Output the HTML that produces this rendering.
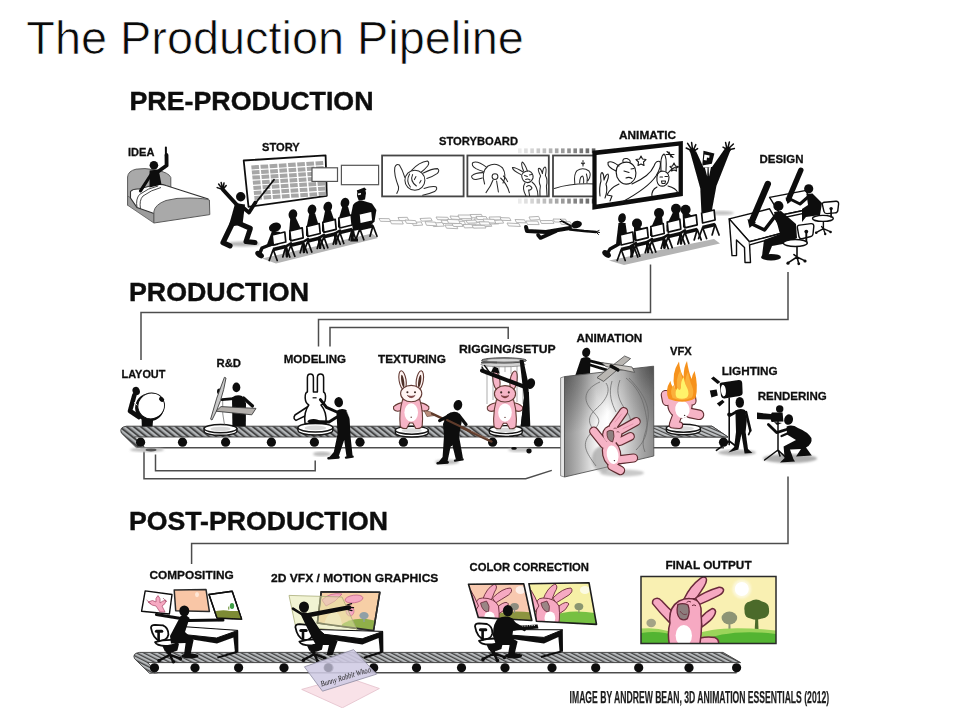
<!DOCTYPE html>
<html><head><meta charset="utf-8"><title>The Production Pipeline</title>
<style>
html,body{margin:0;padding:0;background:#fff;}
svg{display:block;font-family:"Liberation Sans",sans-serif;}
</style></head><body>
<svg width="966" height="708" viewBox="0 0 966 708">
<rect width="966" height="708" fill="#fff"/>
<defs>
<linearGradient id="panelg" x1="0" y1="0" x2="1" y2="0">
<stop offset="0" stop-color="#8a8a8a"/><stop offset="0.16" stop-color="#b4b4b4"/><stop offset="0.36" stop-color="#f4f4f4"/><stop offset="0.48" stop-color="#ffffff"/><stop offset="0.66" stop-color="#dcdcdc"/><stop offset="0.86" stop-color="#a8a8a8"/><stop offset="1" stop-color="#8c8c8c"/></linearGradient>
<radialGradient id="pdl" gradientUnits="userSpaceOnUse" cx="562" cy="372" r="62"><stop offset="0" stop-color="#222" stop-opacity="0.5"/><stop offset="1" stop-color="#222" stop-opacity="0"/></radialGradient>
<radialGradient id="pdr" gradientUnits="userSpaceOnUse" cx="658" cy="362" r="70"><stop offset="0" stop-color="#1a1a1a" stop-opacity="0.62"/><stop offset="0.5" stop-color="#222" stop-opacity="0.25"/><stop offset="1" stop-color="#222" stop-opacity="0"/></radialGradient>
<linearGradient id="filmg" x1="0" y1="0" x2="1" y2="0">
<stop offset="0" stop-color="#ffffff"/><stop offset="0.5" stop-color="#b0b0b0"/><stop offset="1" stop-color="#6a6a6a"/></linearGradient>
<filter id="blur1"><feGaussianBlur stdDeviation="1.2"/></filter>
<filter id="imgblur" filterUnits="userSpaceOnUse" x="0" y="70" width="966" height="638"><feGaussianBlur stdDeviation="0.42"/></filter>
<filter id="soft"><feGaussianBlur stdDeviation="0.35"/></filter>
</defs>
<text x="26.3" y="53.7" font-size="47" font-weight="normal" fill="#0a0a0a" textLength="497.5" lengthAdjust="spacingAndGlyphs" stroke="#fff" stroke-width="0.7">The Production Pipeline</text>
<g filter="url(#imgblur)">
<text x="129.5" y="110" font-size="26.6" font-weight="bold" fill="#111" textLength="244" lengthAdjust="spacingAndGlyphs" stroke="#111" stroke-width="0.45">PRE-PRODUCTION</text>
<text x="129" y="301" font-size="26.6" font-weight="bold" fill="#111" textLength="180" lengthAdjust="spacingAndGlyphs" stroke="#111" stroke-width="0.45">PRODUCTION</text>
<text x="129" y="529.6" font-size="26.6" font-weight="bold" fill="#111" textLength="259" lengthAdjust="spacingAndGlyphs" stroke="#111" stroke-width="0.45">POST-PRODUCTION</text>
<text x="128" y="155.7" font-size="11.4" font-weight="bold" fill="#111" textLength="26.4" lengthAdjust="spacingAndGlyphs" stroke="#111" stroke-width="0.3">IDEA</text>
<text x="262" y="150.8" font-size="11.4" font-weight="bold" fill="#111" textLength="37.7" lengthAdjust="spacingAndGlyphs" stroke="#111" stroke-width="0.3">STORY</text>
<text x="439" y="144.5" font-size="11.4" font-weight="bold" fill="#111" textLength="79" lengthAdjust="spacingAndGlyphs" stroke="#111" stroke-width="0.3">STORYBOARD</text>
<text x="619" y="138.5" font-size="11.4" font-weight="bold" fill="#111" textLength="57" lengthAdjust="spacingAndGlyphs" stroke="#111" stroke-width="0.3">ANIMATIC</text>
<text x="759.5" y="162.8" font-size="11.4" font-weight="bold" fill="#111" textLength="44" lengthAdjust="spacingAndGlyphs" stroke="#111" stroke-width="0.3">DESIGN</text>
<text x="121.6" y="378" font-size="11.4" font-weight="bold" fill="#111" textLength="43.8" lengthAdjust="spacingAndGlyphs" stroke="#111" stroke-width="0.3">LAYOUT</text>
<text x="216.5" y="366.7" font-size="11.4" font-weight="bold" fill="#111" textLength="24.5" lengthAdjust="spacingAndGlyphs" stroke="#111" stroke-width="0.3">R&amp;D</text>
<text x="283.7" y="363" font-size="11.4" font-weight="bold" fill="#111" textLength="62.3" lengthAdjust="spacingAndGlyphs" stroke="#111" stroke-width="0.3">MODELING</text>
<text x="378" y="363" font-size="11.4" font-weight="bold" fill="#111" textLength="68" lengthAdjust="spacingAndGlyphs" stroke="#111" stroke-width="0.3">TEXTURING</text>
<text x="459" y="352.8" font-size="11.4" font-weight="bold" fill="#111" textLength="96.6" lengthAdjust="spacingAndGlyphs" stroke="#111" stroke-width="0.3">RIGGING/SETUP</text>
<text x="576.4" y="342" font-size="11.4" font-weight="bold" fill="#111" textLength="66" lengthAdjust="spacingAndGlyphs" stroke="#111" stroke-width="0.3">ANIMATION</text>
<text x="670" y="355" font-size="11.4" font-weight="bold" fill="#111" textLength="21.7" lengthAdjust="spacingAndGlyphs" stroke="#111" stroke-width="0.3">VFX</text>
<text x="721.7" y="375" font-size="11.4" font-weight="bold" fill="#111" textLength="56" lengthAdjust="spacingAndGlyphs" stroke="#111" stroke-width="0.3">LIGHTING</text>
<text x="757.7" y="400" font-size="11.4" font-weight="bold" fill="#111" textLength="69" lengthAdjust="spacingAndGlyphs" stroke="#111" stroke-width="0.3">RENDERING</text>
<text x="149.5" y="578.5" font-size="11.4" font-weight="bold" fill="#111" textLength="84.2" lengthAdjust="spacingAndGlyphs" stroke="#111" stroke-width="0.3">COMPOSITING</text>
<text x="271" y="581.5" font-size="11.4" font-weight="bold" fill="#111" textLength="167.4" lengthAdjust="spacingAndGlyphs" stroke="#111" stroke-width="0.3">2D VFX / MOTION GRAPHICS</text>
<text x="469.6" y="571" font-size="11.4" font-weight="bold" fill="#111" textLength="119.4" lengthAdjust="spacingAndGlyphs" stroke="#111" stroke-width="0.3">COLOR CORRECTION</text>
<text x="665.4" y="568.5" font-size="11.4" font-weight="bold" fill="#111" textLength="86.2" lengthAdjust="spacingAndGlyphs" stroke="#111" stroke-width="0.3">FINAL OUTPUT</text>
<text x="569.6" y="702.6" font-size="16.8" font-weight="bold" fill="#1c1c1c" textLength="259.5" lengthAdjust="spacingAndGlyphs" stroke="#1c1c1c" stroke-width="0.25">IMAGE BY ANDREW BEAN, 3D ANIMATION ESSENTIALS (2012)</text>
<path d="M141,360 V312.6 H650.5 V264.6" stroke="#4e4e4e" stroke-width="1.5" fill="none"/>
<path d="M318.5,346.5 V319.5 H788 V272" stroke="#4e4e4e" stroke-width="1.5" fill="none"/>
<path d="M330,346.5 V327.4 H508.2 V339" stroke="#4e4e4e" stroke-width="1.5" fill="none"/>
<path d="M144,451.5 V478.7 H525.7 L551.8,470.4" stroke="#4e4e4e" stroke-width="1.5" fill="none"/>
<path d="M155.5,454.5 V470.8 H315.2 V460.5" stroke="#4e4e4e" stroke-width="1.5" fill="none"/>
<path d="M788,476.6 V543.6 H191.6 V564" stroke="#4e4e4e" stroke-width="1.5" fill="none"/>
<path d="M140.4,447.7 H724" stroke="#4e4e4e" stroke-width="1.5" fill="none"/>
<clipPath id="bc1"><path d="M126.4,426.2 H712 L728,437 H134.4 L144.4,447.2 L136.4,447.7 L121.4,433 Q118.9,427.2 126.4,426.2 Z"/></clipPath>
<path d="M126.4,426.2 H712 L728,437 H134.4 L144.4,447.2 L136.4,447.7 L121.4,433 Q118.9,427.2 126.4,426.2 Z" fill="#a7aaac"/>
<g clip-path="url(#bc1)"><path d="M87.80,426.2 L88.90,426.2 L116.40,448.20 L115.30,448.20 Z M94.80,426.2 L95.90,426.2 L123.40,448.20 L122.30,448.20 Z M101.80,426.2 L102.90,426.2 L130.40,448.20 L129.30,448.20 Z M108.80,426.2 L109.90,426.2 L137.40,448.20 L136.30,448.20 Z M115.80,426.2 L116.90,426.2 L144.40,448.20 L143.30,448.20 Z M122.80,426.2 L123.90,426.2 L151.40,448.20 L150.30,448.20 Z M129.80,426.2 L130.90,426.2 L158.40,448.20 L157.30,448.20 Z M136.80,426.2 L137.90,426.2 L165.40,448.20 L164.30,448.20 Z M143.80,426.2 L144.90,426.2 L172.40,448.20 L171.30,448.20 Z M150.80,426.2 L151.90,426.2 L179.40,448.20 L178.30,448.20 Z M157.80,426.2 L158.90,426.2 L186.40,448.20 L185.30,448.20 Z M164.80,426.2 L165.90,426.2 L193.40,448.20 L192.30,448.20 Z M171.80,426.2 L172.90,426.2 L200.40,448.20 L199.30,448.20 Z M178.80,426.2 L179.90,426.2 L207.40,448.20 L206.30,448.20 Z M185.80,426.2 L186.90,426.2 L214.40,448.20 L213.30,448.20 Z M192.80,426.2 L193.90,426.2 L221.40,448.20 L220.30,448.20 Z M199.80,426.2 L200.90,426.2 L228.40,448.20 L227.30,448.20 Z M206.80,426.2 L207.90,426.2 L235.40,448.20 L234.30,448.20 Z M213.80,426.2 L214.90,426.2 L242.40,448.20 L241.30,448.20 Z M220.80,426.2 L221.90,426.2 L249.40,448.20 L248.30,448.20 Z M227.80,426.2 L228.90,426.2 L256.40,448.20 L255.30,448.20 Z M234.80,426.2 L235.90,426.2 L263.40,448.20 L262.30,448.20 Z M241.80,426.2 L242.90,426.2 L270.40,448.20 L269.30,448.20 Z M248.80,426.2 L249.90,426.2 L277.40,448.20 L276.30,448.20 Z M255.80,426.2 L256.90,426.2 L284.40,448.20 L283.30,448.20 Z M262.80,426.2 L263.90,426.2 L291.40,448.20 L290.30,448.20 Z M269.80,426.2 L270.90,426.2 L298.40,448.20 L297.30,448.20 Z M276.80,426.2 L277.90,426.2 L305.40,448.20 L304.30,448.20 Z M283.80,426.2 L284.90,426.2 L312.40,448.20 L311.30,448.20 Z M290.80,426.2 L291.90,426.2 L319.40,448.20 L318.30,448.20 Z M297.80,426.2 L298.90,426.2 L326.40,448.20 L325.30,448.20 Z M304.80,426.2 L305.90,426.2 L333.40,448.20 L332.30,448.20 Z M311.80,426.2 L312.90,426.2 L340.40,448.20 L339.30,448.20 Z M318.80,426.2 L319.90,426.2 L347.40,448.20 L346.30,448.20 Z M325.80,426.2 L326.90,426.2 L354.40,448.20 L353.30,448.20 Z M332.80,426.2 L333.90,426.2 L361.40,448.20 L360.30,448.20 Z M339.80,426.2 L340.90,426.2 L368.40,448.20 L367.30,448.20 Z M346.80,426.2 L347.90,426.2 L375.40,448.20 L374.30,448.20 Z M353.80,426.2 L354.90,426.2 L382.40,448.20 L381.30,448.20 Z M360.80,426.2 L361.90,426.2 L389.40,448.20 L388.30,448.20 Z M367.80,426.2 L368.90,426.2 L396.40,448.20 L395.30,448.20 Z M374.80,426.2 L375.90,426.2 L403.40,448.20 L402.30,448.20 Z M381.80,426.2 L382.90,426.2 L410.40,448.20 L409.30,448.20 Z M388.80,426.2 L389.90,426.2 L417.40,448.20 L416.30,448.20 Z M395.80,426.2 L396.90,426.2 L424.40,448.20 L423.30,448.20 Z M402.80,426.2 L403.90,426.2 L431.40,448.20 L430.30,448.20 Z M409.80,426.2 L410.90,426.2 L438.40,448.20 L437.30,448.20 Z M416.80,426.2 L417.90,426.2 L445.40,448.20 L444.30,448.20 Z M423.80,426.2 L424.90,426.2 L452.40,448.20 L451.30,448.20 Z M430.80,426.2 L431.90,426.2 L459.40,448.20 L458.30,448.20 Z M437.80,426.2 L438.90,426.2 L466.40,448.20 L465.30,448.20 Z M444.80,426.2 L445.90,426.2 L473.40,448.20 L472.30,448.20 Z M451.80,426.2 L452.90,426.2 L480.40,448.20 L479.30,448.20 Z M458.80,426.2 L459.90,426.2 L487.40,448.20 L486.30,448.20 Z M465.80,426.2 L466.90,426.2 L494.40,448.20 L493.30,448.20 Z M472.80,426.2 L473.90,426.2 L501.40,448.20 L500.30,448.20 Z M479.80,426.2 L480.90,426.2 L508.40,448.20 L507.30,448.20 Z M486.80,426.2 L487.90,426.2 L515.40,448.20 L514.30,448.20 Z M493.80,426.2 L494.90,426.2 L522.40,448.20 L521.30,448.20 Z M500.80,426.2 L501.90,426.2 L529.40,448.20 L528.30,448.20 Z M507.80,426.2 L508.90,426.2 L536.40,448.20 L535.30,448.20 Z M514.80,426.2 L515.90,426.2 L543.40,448.20 L542.30,448.20 Z M521.80,426.2 L522.90,426.2 L550.40,448.20 L549.30,448.20 Z M528.80,426.2 L529.90,426.2 L557.40,448.20 L556.30,448.20 Z M535.80,426.2 L536.90,426.2 L564.40,448.20 L563.30,448.20 Z M542.80,426.2 L543.90,426.2 L571.40,448.20 L570.30,448.20 Z M549.80,426.2 L550.90,426.2 L578.40,448.20 L577.30,448.20 Z M556.80,426.2 L557.90,426.2 L585.40,448.20 L584.30,448.20 Z M563.80,426.2 L564.90,426.2 L592.40,448.20 L591.30,448.20 Z M570.80,426.2 L571.90,426.2 L599.40,448.20 L598.30,448.20 Z M577.80,426.2 L578.90,426.2 L606.40,448.20 L605.30,448.20 Z M584.80,426.2 L585.90,426.2 L613.40,448.20 L612.30,448.20 Z M591.80,426.2 L592.90,426.2 L620.40,448.20 L619.30,448.20 Z M598.80,426.2 L599.90,426.2 L627.40,448.20 L626.30,448.20 Z M605.80,426.2 L606.90,426.2 L634.40,448.20 L633.30,448.20 Z M612.80,426.2 L613.90,426.2 L641.40,448.20 L640.30,448.20 Z M619.80,426.2 L620.90,426.2 L648.40,448.20 L647.30,448.20 Z M626.80,426.2 L627.90,426.2 L655.40,448.20 L654.30,448.20 Z M633.80,426.2 L634.90,426.2 L662.40,448.20 L661.30,448.20 Z M640.80,426.2 L641.90,426.2 L669.40,448.20 L668.30,448.20 Z M647.80,426.2 L648.90,426.2 L676.40,448.20 L675.30,448.20 Z M654.80,426.2 L655.90,426.2 L683.40,448.20 L682.30,448.20 Z M661.80,426.2 L662.90,426.2 L690.40,448.20 L689.30,448.20 Z M668.80,426.2 L669.90,426.2 L697.40,448.20 L696.30,448.20 Z M675.80,426.2 L676.90,426.2 L704.40,448.20 L703.30,448.20 Z M682.80,426.2 L683.90,426.2 L711.40,448.20 L710.30,448.20 Z M689.80,426.2 L690.90,426.2 L718.40,448.20 L717.30,448.20 Z M696.80,426.2 L697.90,426.2 L725.40,448.20 L724.30,448.20 Z M703.80,426.2 L704.90,426.2 L732.40,448.20 L731.30,448.20 Z M710.80,426.2 L711.90,426.2 L739.40,448.20 L738.30,448.20 Z M717.80,426.2 L718.90,426.2 L746.40,448.20 L745.30,448.20 Z M724.80,426.2 L725.90,426.2 L753.40,448.20 L752.30,448.20 Z M731.80,426.2 L732.90,426.2 L760.40,448.20 L759.30,448.20 Z M738.80,426.2 L739.90,426.2 L767.40,448.20 L766.30,448.20 Z" fill="#bec1c3"/><path d="M85.40,426.2 L86.70,426.2 L114.20,448.20 L112.90,448.20 Z M92.40,426.2 L93.70,426.2 L121.20,448.20 L119.90,448.20 Z M99.40,426.2 L100.70,426.2 L128.20,448.20 L126.90,448.20 Z M106.40,426.2 L107.70,426.2 L135.20,448.20 L133.90,448.20 Z M113.40,426.2 L114.70,426.2 L142.20,448.20 L140.90,448.20 Z M120.40,426.2 L121.70,426.2 L149.20,448.20 L147.90,448.20 Z M127.40,426.2 L128.70,426.2 L156.20,448.20 L154.90,448.20 Z M134.40,426.2 L135.70,426.2 L163.20,448.20 L161.90,448.20 Z M141.40,426.2 L142.70,426.2 L170.20,448.20 L168.90,448.20 Z M148.40,426.2 L149.70,426.2 L177.20,448.20 L175.90,448.20 Z M155.40,426.2 L156.70,426.2 L184.20,448.20 L182.90,448.20 Z M162.40,426.2 L163.70,426.2 L191.20,448.20 L189.90,448.20 Z M169.40,426.2 L170.70,426.2 L198.20,448.20 L196.90,448.20 Z M176.40,426.2 L177.70,426.2 L205.20,448.20 L203.90,448.20 Z M183.40,426.2 L184.70,426.2 L212.20,448.20 L210.90,448.20 Z M190.40,426.2 L191.70,426.2 L219.20,448.20 L217.90,448.20 Z M197.40,426.2 L198.70,426.2 L226.20,448.20 L224.90,448.20 Z M204.40,426.2 L205.70,426.2 L233.20,448.20 L231.90,448.20 Z M211.40,426.2 L212.70,426.2 L240.20,448.20 L238.90,448.20 Z M218.40,426.2 L219.70,426.2 L247.20,448.20 L245.90,448.20 Z M225.40,426.2 L226.70,426.2 L254.20,448.20 L252.90,448.20 Z M232.40,426.2 L233.70,426.2 L261.20,448.20 L259.90,448.20 Z M239.40,426.2 L240.70,426.2 L268.20,448.20 L266.90,448.20 Z M246.40,426.2 L247.70,426.2 L275.20,448.20 L273.90,448.20 Z M253.40,426.2 L254.70,426.2 L282.20,448.20 L280.90,448.20 Z M260.40,426.2 L261.70,426.2 L289.20,448.20 L287.90,448.20 Z M267.40,426.2 L268.70,426.2 L296.20,448.20 L294.90,448.20 Z M274.40,426.2 L275.70,426.2 L303.20,448.20 L301.90,448.20 Z M281.40,426.2 L282.70,426.2 L310.20,448.20 L308.90,448.20 Z M288.40,426.2 L289.70,426.2 L317.20,448.20 L315.90,448.20 Z M295.40,426.2 L296.70,426.2 L324.20,448.20 L322.90,448.20 Z M302.40,426.2 L303.70,426.2 L331.20,448.20 L329.90,448.20 Z M309.40,426.2 L310.70,426.2 L338.20,448.20 L336.90,448.20 Z M316.40,426.2 L317.70,426.2 L345.20,448.20 L343.90,448.20 Z M323.40,426.2 L324.70,426.2 L352.20,448.20 L350.90,448.20 Z M330.40,426.2 L331.70,426.2 L359.20,448.20 L357.90,448.20 Z M337.40,426.2 L338.70,426.2 L366.20,448.20 L364.90,448.20 Z M344.40,426.2 L345.70,426.2 L373.20,448.20 L371.90,448.20 Z M351.40,426.2 L352.70,426.2 L380.20,448.20 L378.90,448.20 Z M358.40,426.2 L359.70,426.2 L387.20,448.20 L385.90,448.20 Z M365.40,426.2 L366.70,426.2 L394.20,448.20 L392.90,448.20 Z M372.40,426.2 L373.70,426.2 L401.20,448.20 L399.90,448.20 Z M379.40,426.2 L380.70,426.2 L408.20,448.20 L406.90,448.20 Z M386.40,426.2 L387.70,426.2 L415.20,448.20 L413.90,448.20 Z M393.40,426.2 L394.70,426.2 L422.20,448.20 L420.90,448.20 Z M400.40,426.2 L401.70,426.2 L429.20,448.20 L427.90,448.20 Z M407.40,426.2 L408.70,426.2 L436.20,448.20 L434.90,448.20 Z M414.40,426.2 L415.70,426.2 L443.20,448.20 L441.90,448.20 Z M421.40,426.2 L422.70,426.2 L450.20,448.20 L448.90,448.20 Z M428.40,426.2 L429.70,426.2 L457.20,448.20 L455.90,448.20 Z M435.40,426.2 L436.70,426.2 L464.20,448.20 L462.90,448.20 Z M442.40,426.2 L443.70,426.2 L471.20,448.20 L469.90,448.20 Z M449.40,426.2 L450.70,426.2 L478.20,448.20 L476.90,448.20 Z M456.40,426.2 L457.70,426.2 L485.20,448.20 L483.90,448.20 Z M463.40,426.2 L464.70,426.2 L492.20,448.20 L490.90,448.20 Z M470.40,426.2 L471.70,426.2 L499.20,448.20 L497.90,448.20 Z M477.40,426.2 L478.70,426.2 L506.20,448.20 L504.90,448.20 Z M484.40,426.2 L485.70,426.2 L513.20,448.20 L511.90,448.20 Z M491.40,426.2 L492.70,426.2 L520.20,448.20 L518.90,448.20 Z M498.40,426.2 L499.70,426.2 L527.20,448.20 L525.90,448.20 Z M505.40,426.2 L506.70,426.2 L534.20,448.20 L532.90,448.20 Z M512.40,426.2 L513.70,426.2 L541.20,448.20 L539.90,448.20 Z M519.40,426.2 L520.70,426.2 L548.20,448.20 L546.90,448.20 Z M526.40,426.2 L527.70,426.2 L555.20,448.20 L553.90,448.20 Z M533.40,426.2 L534.70,426.2 L562.20,448.20 L560.90,448.20 Z M540.40,426.2 L541.70,426.2 L569.20,448.20 L567.90,448.20 Z M547.40,426.2 L548.70,426.2 L576.20,448.20 L574.90,448.20 Z M554.40,426.2 L555.70,426.2 L583.20,448.20 L581.90,448.20 Z M561.40,426.2 L562.70,426.2 L590.20,448.20 L588.90,448.20 Z M568.40,426.2 L569.70,426.2 L597.20,448.20 L595.90,448.20 Z M575.40,426.2 L576.70,426.2 L604.20,448.20 L602.90,448.20 Z M582.40,426.2 L583.70,426.2 L611.20,448.20 L609.90,448.20 Z M589.40,426.2 L590.70,426.2 L618.20,448.20 L616.90,448.20 Z M596.40,426.2 L597.70,426.2 L625.20,448.20 L623.90,448.20 Z M603.40,426.2 L604.70,426.2 L632.20,448.20 L630.90,448.20 Z M610.40,426.2 L611.70,426.2 L639.20,448.20 L637.90,448.20 Z M617.40,426.2 L618.70,426.2 L646.20,448.20 L644.90,448.20 Z M624.40,426.2 L625.70,426.2 L653.20,448.20 L651.90,448.20 Z M631.40,426.2 L632.70,426.2 L660.20,448.20 L658.90,448.20 Z M638.40,426.2 L639.70,426.2 L667.20,448.20 L665.90,448.20 Z M645.40,426.2 L646.70,426.2 L674.20,448.20 L672.90,448.20 Z M652.40,426.2 L653.70,426.2 L681.20,448.20 L679.90,448.20 Z M659.40,426.2 L660.70,426.2 L688.20,448.20 L686.90,448.20 Z M666.40,426.2 L667.70,426.2 L695.20,448.20 L693.90,448.20 Z M673.40,426.2 L674.70,426.2 L702.20,448.20 L700.90,448.20 Z M680.40,426.2 L681.70,426.2 L709.20,448.20 L707.90,448.20 Z M687.40,426.2 L688.70,426.2 L716.20,448.20 L714.90,448.20 Z M694.40,426.2 L695.70,426.2 L723.20,448.20 L721.90,448.20 Z M701.40,426.2 L702.70,426.2 L730.20,448.20 L728.90,448.20 Z M708.40,426.2 L709.70,426.2 L737.20,448.20 L735.90,448.20 Z M715.40,426.2 L716.70,426.2 L744.20,448.20 L742.90,448.20 Z M722.40,426.2 L723.70,426.2 L751.20,448.20 L749.90,448.20 Z M729.40,426.2 L730.70,426.2 L758.20,448.20 L756.90,448.20 Z M736.40,426.2 L737.70,426.2 L765.20,448.20 L763.90,448.20 Z" fill="#85878a"/><path d="M82.90,426.2 L85.40,426.2 L112.90,448.20 L110.40,448.20 Z M89.90,426.2 L92.40,426.2 L119.90,448.20 L117.40,448.20 Z M96.90,426.2 L99.40,426.2 L126.90,448.20 L124.40,448.20 Z M103.90,426.2 L106.40,426.2 L133.90,448.20 L131.40,448.20 Z M110.90,426.2 L113.40,426.2 L140.90,448.20 L138.40,448.20 Z M117.90,426.2 L120.40,426.2 L147.90,448.20 L145.40,448.20 Z M124.90,426.2 L127.40,426.2 L154.90,448.20 L152.40,448.20 Z M131.90,426.2 L134.40,426.2 L161.90,448.20 L159.40,448.20 Z M138.90,426.2 L141.40,426.2 L168.90,448.20 L166.40,448.20 Z M145.90,426.2 L148.40,426.2 L175.90,448.20 L173.40,448.20 Z M152.90,426.2 L155.40,426.2 L182.90,448.20 L180.40,448.20 Z M159.90,426.2 L162.40,426.2 L189.90,448.20 L187.40,448.20 Z M166.90,426.2 L169.40,426.2 L196.90,448.20 L194.40,448.20 Z M173.90,426.2 L176.40,426.2 L203.90,448.20 L201.40,448.20 Z M180.90,426.2 L183.40,426.2 L210.90,448.20 L208.40,448.20 Z M187.90,426.2 L190.40,426.2 L217.90,448.20 L215.40,448.20 Z M194.90,426.2 L197.40,426.2 L224.90,448.20 L222.40,448.20 Z M201.90,426.2 L204.40,426.2 L231.90,448.20 L229.40,448.20 Z M208.90,426.2 L211.40,426.2 L238.90,448.20 L236.40,448.20 Z M215.90,426.2 L218.40,426.2 L245.90,448.20 L243.40,448.20 Z M222.90,426.2 L225.40,426.2 L252.90,448.20 L250.40,448.20 Z M229.90,426.2 L232.40,426.2 L259.90,448.20 L257.40,448.20 Z M236.90,426.2 L239.40,426.2 L266.90,448.20 L264.40,448.20 Z M243.90,426.2 L246.40,426.2 L273.90,448.20 L271.40,448.20 Z M250.90,426.2 L253.40,426.2 L280.90,448.20 L278.40,448.20 Z M257.90,426.2 L260.40,426.2 L287.90,448.20 L285.40,448.20 Z M264.90,426.2 L267.40,426.2 L294.90,448.20 L292.40,448.20 Z M271.90,426.2 L274.40,426.2 L301.90,448.20 L299.40,448.20 Z M278.90,426.2 L281.40,426.2 L308.90,448.20 L306.40,448.20 Z M285.90,426.2 L288.40,426.2 L315.90,448.20 L313.40,448.20 Z M292.90,426.2 L295.40,426.2 L322.90,448.20 L320.40,448.20 Z M299.90,426.2 L302.40,426.2 L329.90,448.20 L327.40,448.20 Z M306.90,426.2 L309.40,426.2 L336.90,448.20 L334.40,448.20 Z M313.90,426.2 L316.40,426.2 L343.90,448.20 L341.40,448.20 Z M320.90,426.2 L323.40,426.2 L350.90,448.20 L348.40,448.20 Z M327.90,426.2 L330.40,426.2 L357.90,448.20 L355.40,448.20 Z M334.90,426.2 L337.40,426.2 L364.90,448.20 L362.40,448.20 Z M341.90,426.2 L344.40,426.2 L371.90,448.20 L369.40,448.20 Z M348.90,426.2 L351.40,426.2 L378.90,448.20 L376.40,448.20 Z M355.90,426.2 L358.40,426.2 L385.90,448.20 L383.40,448.20 Z M362.90,426.2 L365.40,426.2 L392.90,448.20 L390.40,448.20 Z M369.90,426.2 L372.40,426.2 L399.90,448.20 L397.40,448.20 Z M376.90,426.2 L379.40,426.2 L406.90,448.20 L404.40,448.20 Z M383.90,426.2 L386.40,426.2 L413.90,448.20 L411.40,448.20 Z M390.90,426.2 L393.40,426.2 L420.90,448.20 L418.40,448.20 Z M397.90,426.2 L400.40,426.2 L427.90,448.20 L425.40,448.20 Z M404.90,426.2 L407.40,426.2 L434.90,448.20 L432.40,448.20 Z M411.90,426.2 L414.40,426.2 L441.90,448.20 L439.40,448.20 Z M418.90,426.2 L421.40,426.2 L448.90,448.20 L446.40,448.20 Z M425.90,426.2 L428.40,426.2 L455.90,448.20 L453.40,448.20 Z M432.90,426.2 L435.40,426.2 L462.90,448.20 L460.40,448.20 Z M439.90,426.2 L442.40,426.2 L469.90,448.20 L467.40,448.20 Z M446.90,426.2 L449.40,426.2 L476.90,448.20 L474.40,448.20 Z M453.90,426.2 L456.40,426.2 L483.90,448.20 L481.40,448.20 Z M460.90,426.2 L463.40,426.2 L490.90,448.20 L488.40,448.20 Z M467.90,426.2 L470.40,426.2 L497.90,448.20 L495.40,448.20 Z M474.90,426.2 L477.40,426.2 L504.90,448.20 L502.40,448.20 Z M481.90,426.2 L484.40,426.2 L511.90,448.20 L509.40,448.20 Z M488.90,426.2 L491.40,426.2 L518.90,448.20 L516.40,448.20 Z M495.90,426.2 L498.40,426.2 L525.90,448.20 L523.40,448.20 Z M502.90,426.2 L505.40,426.2 L532.90,448.20 L530.40,448.20 Z M509.90,426.2 L512.40,426.2 L539.90,448.20 L537.40,448.20 Z M516.90,426.2 L519.40,426.2 L546.90,448.20 L544.40,448.20 Z M523.90,426.2 L526.40,426.2 L553.90,448.20 L551.40,448.20 Z M530.90,426.2 L533.40,426.2 L560.90,448.20 L558.40,448.20 Z M537.90,426.2 L540.40,426.2 L567.90,448.20 L565.40,448.20 Z M544.90,426.2 L547.40,426.2 L574.90,448.20 L572.40,448.20 Z M551.90,426.2 L554.40,426.2 L581.90,448.20 L579.40,448.20 Z M558.90,426.2 L561.40,426.2 L588.90,448.20 L586.40,448.20 Z M565.90,426.2 L568.40,426.2 L595.90,448.20 L593.40,448.20 Z M572.90,426.2 L575.40,426.2 L602.90,448.20 L600.40,448.20 Z M579.90,426.2 L582.40,426.2 L609.90,448.20 L607.40,448.20 Z M586.90,426.2 L589.40,426.2 L616.90,448.20 L614.40,448.20 Z M593.90,426.2 L596.40,426.2 L623.90,448.20 L621.40,448.20 Z M600.90,426.2 L603.40,426.2 L630.90,448.20 L628.40,448.20 Z M607.90,426.2 L610.40,426.2 L637.90,448.20 L635.40,448.20 Z M614.90,426.2 L617.40,426.2 L644.90,448.20 L642.40,448.20 Z M621.90,426.2 L624.40,426.2 L651.90,448.20 L649.40,448.20 Z M628.90,426.2 L631.40,426.2 L658.90,448.20 L656.40,448.20 Z M635.90,426.2 L638.40,426.2 L665.90,448.20 L663.40,448.20 Z M642.90,426.2 L645.40,426.2 L672.90,448.20 L670.40,448.20 Z M649.90,426.2 L652.40,426.2 L679.90,448.20 L677.40,448.20 Z M656.90,426.2 L659.40,426.2 L686.90,448.20 L684.40,448.20 Z M663.90,426.2 L666.40,426.2 L693.90,448.20 L691.40,448.20 Z M670.90,426.2 L673.40,426.2 L700.90,448.20 L698.40,448.20 Z M677.90,426.2 L680.40,426.2 L707.90,448.20 L705.40,448.20 Z M684.90,426.2 L687.40,426.2 L714.90,448.20 L712.40,448.20 Z M691.90,426.2 L694.40,426.2 L721.90,448.20 L719.40,448.20 Z M698.90,426.2 L701.40,426.2 L728.90,448.20 L726.40,448.20 Z M705.90,426.2 L708.40,426.2 L735.90,448.20 L733.40,448.20 Z M712.90,426.2 L715.40,426.2 L742.90,448.20 L740.40,448.20 Z M719.90,426.2 L722.40,426.2 L749.90,448.20 L747.40,448.20 Z M726.90,426.2 L729.40,426.2 L756.90,448.20 L754.40,448.20 Z M733.90,426.2 L736.40,426.2 L763.90,448.20 L761.40,448.20 Z" fill="#414141"/></g>
<path d="M126.4,426.2 H712 L728,437 H134.4 L144.4,447.2 L136.4,447.7 L121.4,433 Q118.9,427.2 126.4,426.2 Z" fill="none" stroke="#3c3c3c" stroke-width="0.9"/>
<circle cx="140.6" cy="442.2" r="4.6" fill="#0a0a0a"/>
<circle cx="182.5" cy="442.2" r="4.6" fill="#0a0a0a"/>
<circle cx="225.6" cy="442.2" r="4.6" fill="#0a0a0a"/>
<circle cx="271.4" cy="442.2" r="4.6" fill="#0a0a0a"/>
<circle cx="314.4" cy="442.2" r="4.6" fill="#0a0a0a"/>
<circle cx="360" cy="442.2" r="4.6" fill="#0a0a0a"/>
<circle cx="403.4" cy="442.2" r="4.6" fill="#0a0a0a"/>
<circle cx="449" cy="442.2" r="4.6" fill="#0a0a0a"/>
<circle cx="492.6" cy="442.2" r="4.6" fill="#0a0a0a"/>
<circle cx="538.5" cy="442.2" r="4.6" fill="#0a0a0a"/>
<circle cx="675.5" cy="442.2" r="4.6" fill="#0a0a0a"/>
<circle cx="723.5" cy="442.2" r="4.6" fill="#0a0a0a"/>
<clipPath id="bcr"><path d="M650,426.2 H712 L728,437 H650 Z"/></clipPath>
<path d="M650,426.2 H712 L728,437 H650 Z" fill="#adb0b2"/>
<g clip-path="url(#bcr)"><path d="M619.76,426.2 L622.16,426.2 L647.00,437 L644.60,437 Z M627.96,426.2 L630.36,426.2 L655.20,437 L652.80,437 Z M636.16,426.2 L638.56,426.2 L663.40,437 L661.00,437 Z M644.36,426.2 L646.76,426.2 L671.60,437 L669.20,437 Z M652.56,426.2 L654.96,426.2 L679.80,437 L677.40,437 Z M660.76,426.2 L663.16,426.2 L688.00,437 L685.60,437 Z M668.96,426.2 L671.36,426.2 L696.20,437 L693.80,437 Z M677.16,426.2 L679.56,426.2 L704.40,437 L702.00,437 Z M685.36,426.2 L687.76,426.2 L712.60,437 L710.20,437 Z M693.56,426.2 L695.96,426.2 L720.80,437 L718.40,437 Z M701.76,426.2 L704.16,426.2 L729.00,437 L726.60,437 Z M709.96,426.2 L712.36,426.2 L737.20,437 L734.80,437 Z M718.16,426.2 L720.56,426.2 L745.40,437 L743.00,437 Z M726.36,426.2 L728.76,426.2 L753.60,437 L751.20,437 Z M734.56,426.2 L736.96,426.2 L761.80,437 L759.40,437 Z M742.76,426.2 L745.16,426.2 L770.00,437 L767.60,437 Z" fill="#c4c7c9"/><path d="M615.16,426.2 L617.76,426.2 L642.60,437 L640.00,437 Z M623.36,426.2 L625.96,426.2 L650.80,437 L648.20,437 Z M631.56,426.2 L634.16,426.2 L659.00,437 L656.40,437 Z M639.76,426.2 L642.36,426.2 L667.20,437 L664.60,437 Z M647.96,426.2 L650.56,426.2 L675.40,437 L672.80,437 Z M656.16,426.2 L658.76,426.2 L683.60,437 L681.00,437 Z M664.36,426.2 L666.96,426.2 L691.80,437 L689.20,437 Z M672.56,426.2 L675.16,426.2 L700.00,437 L697.40,437 Z M680.76,426.2 L683.36,426.2 L708.20,437 L705.60,437 Z M688.96,426.2 L691.56,426.2 L716.40,437 L713.80,437 Z M697.16,426.2 L699.76,426.2 L724.60,437 L722.00,437 Z M705.36,426.2 L707.96,426.2 L732.80,437 L730.20,437 Z M713.56,426.2 L716.16,426.2 L741.00,437 L738.40,437 Z M721.76,426.2 L724.36,426.2 L749.20,437 L746.60,437 Z M729.96,426.2 L732.56,426.2 L757.40,437 L754.80,437 Z M738.16,426.2 L740.76,426.2 L765.60,437 L763.00,437 Z" fill="#484848"/></g>
<path d="M650,426.2 H712 L728,437 H650" fill="none" stroke="#3c3c3c" stroke-width="0.9"/>
<path d="M153.5,672.7 H736.6" stroke="#4e4e4e" stroke-width="1.5" fill="none"/>
<clipPath id="bc2"><path d="M139.5,652.4 H723 L740.6,662.6 H147.5 L157.5,672.8 L149.5,673.3 L134.5,658.6 Q132.0,653.4 139.5,652.4 Z"/></clipPath>
<path d="M139.5,652.4 H723 L740.6,662.6 H147.5 L157.5,672.8 L149.5,673.3 L134.5,658.6 Q132.0,653.4 139.5,652.4 Z" fill="#a7aaac"/>
<g clip-path="url(#bc2)"><path d="M86.37,652.4 L88.27,652.4 L130.00,673.80 L128.10,673.80 Z M93.87,652.4 L95.77,652.4 L137.50,673.80 L135.60,673.80 Z M101.37,652.4 L103.27,652.4 L145.00,673.80 L143.10,673.80 Z M108.87,652.4 L110.77,652.4 L152.50,673.80 L150.60,673.80 Z M116.37,652.4 L118.27,652.4 L160.00,673.80 L158.10,673.80 Z M123.87,652.4 L125.77,652.4 L167.50,673.80 L165.60,673.80 Z M131.37,652.4 L133.27,652.4 L175.00,673.80 L173.10,673.80 Z M138.87,652.4 L140.77,652.4 L182.50,673.80 L180.60,673.80 Z M146.37,652.4 L148.27,652.4 L190.00,673.80 L188.10,673.80 Z M153.87,652.4 L155.77,652.4 L197.50,673.80 L195.60,673.80 Z M161.37,652.4 L163.27,652.4 L205.00,673.80 L203.10,673.80 Z M168.87,652.4 L170.77,652.4 L212.50,673.80 L210.60,673.80 Z M176.37,652.4 L178.27,652.4 L220.00,673.80 L218.10,673.80 Z M183.87,652.4 L185.77,652.4 L227.50,673.80 L225.60,673.80 Z M191.37,652.4 L193.27,652.4 L235.00,673.80 L233.10,673.80 Z M198.87,652.4 L200.77,652.4 L242.50,673.80 L240.60,673.80 Z M206.37,652.4 L208.27,652.4 L250.00,673.80 L248.10,673.80 Z M213.87,652.4 L215.77,652.4 L257.50,673.80 L255.60,673.80 Z M221.37,652.4 L223.27,652.4 L265.00,673.80 L263.10,673.80 Z M228.87,652.4 L230.77,652.4 L272.50,673.80 L270.60,673.80 Z M236.37,652.4 L238.27,652.4 L280.00,673.80 L278.10,673.80 Z M243.87,652.4 L245.77,652.4 L287.50,673.80 L285.60,673.80 Z M251.37,652.4 L253.27,652.4 L295.00,673.80 L293.10,673.80 Z M258.87,652.4 L260.77,652.4 L302.50,673.80 L300.60,673.80 Z M266.37,652.4 L268.27,652.4 L310.00,673.80 L308.10,673.80 Z M273.87,652.4 L275.77,652.4 L317.50,673.80 L315.60,673.80 Z M281.37,652.4 L283.27,652.4 L325.00,673.80 L323.10,673.80 Z M288.87,652.4 L290.77,652.4 L332.50,673.80 L330.60,673.80 Z M296.37,652.4 L298.27,652.4 L340.00,673.80 L338.10,673.80 Z M303.87,652.4 L305.77,652.4 L347.50,673.80 L345.60,673.80 Z M311.37,652.4 L313.27,652.4 L355.00,673.80 L353.10,673.80 Z M318.87,652.4 L320.77,652.4 L362.50,673.80 L360.60,673.80 Z M326.37,652.4 L328.27,652.4 L370.00,673.80 L368.10,673.80 Z M333.87,652.4 L335.77,652.4 L377.50,673.80 L375.60,673.80 Z M341.37,652.4 L343.27,652.4 L385.00,673.80 L383.10,673.80 Z M348.87,652.4 L350.77,652.4 L392.50,673.80 L390.60,673.80 Z M356.37,652.4 L358.27,652.4 L400.00,673.80 L398.10,673.80 Z M363.87,652.4 L365.77,652.4 L407.50,673.80 L405.60,673.80 Z M371.37,652.4 L373.27,652.4 L415.00,673.80 L413.10,673.80 Z M378.87,652.4 L380.77,652.4 L422.50,673.80 L420.60,673.80 Z M386.37,652.4 L388.27,652.4 L430.00,673.80 L428.10,673.80 Z M393.87,652.4 L395.77,652.4 L437.50,673.80 L435.60,673.80 Z M401.37,652.4 L403.27,652.4 L445.00,673.80 L443.10,673.80 Z M408.87,652.4 L410.77,652.4 L452.50,673.80 L450.60,673.80 Z M416.37,652.4 L418.27,652.4 L460.00,673.80 L458.10,673.80 Z M423.87,652.4 L425.77,652.4 L467.50,673.80 L465.60,673.80 Z M431.37,652.4 L433.27,652.4 L475.00,673.80 L473.10,673.80 Z M438.87,652.4 L440.77,652.4 L482.50,673.80 L480.60,673.80 Z M446.37,652.4 L448.27,652.4 L490.00,673.80 L488.10,673.80 Z M453.87,652.4 L455.77,652.4 L497.50,673.80 L495.60,673.80 Z M461.37,652.4 L463.27,652.4 L505.00,673.80 L503.10,673.80 Z M468.87,652.4 L470.77,652.4 L512.50,673.80 L510.60,673.80 Z M476.37,652.4 L478.27,652.4 L520.00,673.80 L518.10,673.80 Z M483.87,652.4 L485.77,652.4 L527.50,673.80 L525.60,673.80 Z M491.37,652.4 L493.27,652.4 L535.00,673.80 L533.10,673.80 Z M498.87,652.4 L500.77,652.4 L542.50,673.80 L540.60,673.80 Z M506.37,652.4 L508.27,652.4 L550.00,673.80 L548.10,673.80 Z M513.87,652.4 L515.77,652.4 L557.50,673.80 L555.60,673.80 Z M521.37,652.4 L523.27,652.4 L565.00,673.80 L563.10,673.80 Z M528.87,652.4 L530.77,652.4 L572.50,673.80 L570.60,673.80 Z M536.37,652.4 L538.27,652.4 L580.00,673.80 L578.10,673.80 Z M543.87,652.4 L545.77,652.4 L587.50,673.80 L585.60,673.80 Z M551.37,652.4 L553.27,652.4 L595.00,673.80 L593.10,673.80 Z M558.87,652.4 L560.77,652.4 L602.50,673.80 L600.60,673.80 Z M566.37,652.4 L568.27,652.4 L610.00,673.80 L608.10,673.80 Z M573.87,652.4 L575.77,652.4 L617.50,673.80 L615.60,673.80 Z M581.37,652.4 L583.27,652.4 L625.00,673.80 L623.10,673.80 Z M588.87,652.4 L590.77,652.4 L632.50,673.80 L630.60,673.80 Z M596.37,652.4 L598.27,652.4 L640.00,673.80 L638.10,673.80 Z M603.87,652.4 L605.77,652.4 L647.50,673.80 L645.60,673.80 Z M611.37,652.4 L613.27,652.4 L655.00,673.80 L653.10,673.80 Z M618.87,652.4 L620.77,652.4 L662.50,673.80 L660.60,673.80 Z M626.37,652.4 L628.27,652.4 L670.00,673.80 L668.10,673.80 Z M633.87,652.4 L635.77,652.4 L677.50,673.80 L675.60,673.80 Z M641.37,652.4 L643.27,652.4 L685.00,673.80 L683.10,673.80 Z M648.87,652.4 L650.77,652.4 L692.50,673.80 L690.60,673.80 Z M656.37,652.4 L658.27,652.4 L700.00,673.80 L698.10,673.80 Z M663.87,652.4 L665.77,652.4 L707.50,673.80 L705.60,673.80 Z M671.37,652.4 L673.27,652.4 L715.00,673.80 L713.10,673.80 Z M678.87,652.4 L680.77,652.4 L722.50,673.80 L720.60,673.80 Z M686.37,652.4 L688.27,652.4 L730.00,673.80 L728.10,673.80 Z M693.87,652.4 L695.77,652.4 L737.50,673.80 L735.60,673.80 Z M701.37,652.4 L703.27,652.4 L745.00,673.80 L743.10,673.80 Z M708.87,652.4 L710.77,652.4 L752.50,673.80 L750.60,673.80 Z M716.37,652.4 L718.27,652.4 L760.00,673.80 L758.10,673.80 Z M723.87,652.4 L725.77,652.4 L767.50,673.80 L765.60,673.80 Z M731.37,652.4 L733.27,652.4 L775.00,673.80 L773.10,673.80 Z M738.87,652.4 L740.77,652.4 L782.50,673.80 L780.60,673.80 Z M746.37,652.4 L748.27,652.4 L790.00,673.80 L788.10,673.80 Z" fill="#bec1c3"/><path d="M83.97,652.4 L85.27,652.4 L127.00,673.80 L125.70,673.80 Z M91.47,652.4 L92.77,652.4 L134.50,673.80 L133.20,673.80 Z M98.97,652.4 L100.27,652.4 L142.00,673.80 L140.70,673.80 Z M106.47,652.4 L107.77,652.4 L149.50,673.80 L148.20,673.80 Z M113.97,652.4 L115.27,652.4 L157.00,673.80 L155.70,673.80 Z M121.47,652.4 L122.77,652.4 L164.50,673.80 L163.20,673.80 Z M128.97,652.4 L130.27,652.4 L172.00,673.80 L170.70,673.80 Z M136.47,652.4 L137.77,652.4 L179.50,673.80 L178.20,673.80 Z M143.97,652.4 L145.27,652.4 L187.00,673.80 L185.70,673.80 Z M151.47,652.4 L152.77,652.4 L194.50,673.80 L193.20,673.80 Z M158.97,652.4 L160.27,652.4 L202.00,673.80 L200.70,673.80 Z M166.47,652.4 L167.77,652.4 L209.50,673.80 L208.20,673.80 Z M173.97,652.4 L175.27,652.4 L217.00,673.80 L215.70,673.80 Z M181.47,652.4 L182.77,652.4 L224.50,673.80 L223.20,673.80 Z M188.97,652.4 L190.27,652.4 L232.00,673.80 L230.70,673.80 Z M196.47,652.4 L197.77,652.4 L239.50,673.80 L238.20,673.80 Z M203.97,652.4 L205.27,652.4 L247.00,673.80 L245.70,673.80 Z M211.47,652.4 L212.77,652.4 L254.50,673.80 L253.20,673.80 Z M218.97,652.4 L220.27,652.4 L262.00,673.80 L260.70,673.80 Z M226.47,652.4 L227.77,652.4 L269.50,673.80 L268.20,673.80 Z M233.97,652.4 L235.27,652.4 L277.00,673.80 L275.70,673.80 Z M241.47,652.4 L242.77,652.4 L284.50,673.80 L283.20,673.80 Z M248.97,652.4 L250.27,652.4 L292.00,673.80 L290.70,673.80 Z M256.47,652.4 L257.77,652.4 L299.50,673.80 L298.20,673.80 Z M263.97,652.4 L265.27,652.4 L307.00,673.80 L305.70,673.80 Z M271.47,652.4 L272.77,652.4 L314.50,673.80 L313.20,673.80 Z M278.97,652.4 L280.27,652.4 L322.00,673.80 L320.70,673.80 Z M286.47,652.4 L287.77,652.4 L329.50,673.80 L328.20,673.80 Z M293.97,652.4 L295.27,652.4 L337.00,673.80 L335.70,673.80 Z M301.47,652.4 L302.77,652.4 L344.50,673.80 L343.20,673.80 Z M308.97,652.4 L310.27,652.4 L352.00,673.80 L350.70,673.80 Z M316.47,652.4 L317.77,652.4 L359.50,673.80 L358.20,673.80 Z M323.97,652.4 L325.27,652.4 L367.00,673.80 L365.70,673.80 Z M331.47,652.4 L332.77,652.4 L374.50,673.80 L373.20,673.80 Z M338.97,652.4 L340.27,652.4 L382.00,673.80 L380.70,673.80 Z M346.47,652.4 L347.77,652.4 L389.50,673.80 L388.20,673.80 Z M353.97,652.4 L355.27,652.4 L397.00,673.80 L395.70,673.80 Z M361.47,652.4 L362.77,652.4 L404.50,673.80 L403.20,673.80 Z M368.97,652.4 L370.27,652.4 L412.00,673.80 L410.70,673.80 Z M376.47,652.4 L377.77,652.4 L419.50,673.80 L418.20,673.80 Z M383.97,652.4 L385.27,652.4 L427.00,673.80 L425.70,673.80 Z M391.47,652.4 L392.77,652.4 L434.50,673.80 L433.20,673.80 Z M398.97,652.4 L400.27,652.4 L442.00,673.80 L440.70,673.80 Z M406.47,652.4 L407.77,652.4 L449.50,673.80 L448.20,673.80 Z M413.97,652.4 L415.27,652.4 L457.00,673.80 L455.70,673.80 Z M421.47,652.4 L422.77,652.4 L464.50,673.80 L463.20,673.80 Z M428.97,652.4 L430.27,652.4 L472.00,673.80 L470.70,673.80 Z M436.47,652.4 L437.77,652.4 L479.50,673.80 L478.20,673.80 Z M443.97,652.4 L445.27,652.4 L487.00,673.80 L485.70,673.80 Z M451.47,652.4 L452.77,652.4 L494.50,673.80 L493.20,673.80 Z M458.97,652.4 L460.27,652.4 L502.00,673.80 L500.70,673.80 Z M466.47,652.4 L467.77,652.4 L509.50,673.80 L508.20,673.80 Z M473.97,652.4 L475.27,652.4 L517.00,673.80 L515.70,673.80 Z M481.47,652.4 L482.77,652.4 L524.50,673.80 L523.20,673.80 Z M488.97,652.4 L490.27,652.4 L532.00,673.80 L530.70,673.80 Z M496.47,652.4 L497.77,652.4 L539.50,673.80 L538.20,673.80 Z M503.97,652.4 L505.27,652.4 L547.00,673.80 L545.70,673.80 Z M511.47,652.4 L512.77,652.4 L554.50,673.80 L553.20,673.80 Z M518.97,652.4 L520.27,652.4 L562.00,673.80 L560.70,673.80 Z M526.47,652.4 L527.77,652.4 L569.50,673.80 L568.20,673.80 Z M533.97,652.4 L535.27,652.4 L577.00,673.80 L575.70,673.80 Z M541.47,652.4 L542.77,652.4 L584.50,673.80 L583.20,673.80 Z M548.97,652.4 L550.27,652.4 L592.00,673.80 L590.70,673.80 Z M556.47,652.4 L557.77,652.4 L599.50,673.80 L598.20,673.80 Z M563.97,652.4 L565.27,652.4 L607.00,673.80 L605.70,673.80 Z M571.47,652.4 L572.77,652.4 L614.50,673.80 L613.20,673.80 Z M578.97,652.4 L580.27,652.4 L622.00,673.80 L620.70,673.80 Z M586.47,652.4 L587.77,652.4 L629.50,673.80 L628.20,673.80 Z M593.97,652.4 L595.27,652.4 L637.00,673.80 L635.70,673.80 Z M601.47,652.4 L602.77,652.4 L644.50,673.80 L643.20,673.80 Z M608.97,652.4 L610.27,652.4 L652.00,673.80 L650.70,673.80 Z M616.47,652.4 L617.77,652.4 L659.50,673.80 L658.20,673.80 Z M623.97,652.4 L625.27,652.4 L667.00,673.80 L665.70,673.80 Z M631.47,652.4 L632.77,652.4 L674.50,673.80 L673.20,673.80 Z M638.97,652.4 L640.27,652.4 L682.00,673.80 L680.70,673.80 Z M646.47,652.4 L647.77,652.4 L689.50,673.80 L688.20,673.80 Z M653.97,652.4 L655.27,652.4 L697.00,673.80 L695.70,673.80 Z M661.47,652.4 L662.77,652.4 L704.50,673.80 L703.20,673.80 Z M668.97,652.4 L670.27,652.4 L712.00,673.80 L710.70,673.80 Z M676.47,652.4 L677.77,652.4 L719.50,673.80 L718.20,673.80 Z M683.97,652.4 L685.27,652.4 L727.00,673.80 L725.70,673.80 Z M691.47,652.4 L692.77,652.4 L734.50,673.80 L733.20,673.80 Z M698.97,652.4 L700.27,652.4 L742.00,673.80 L740.70,673.80 Z M706.47,652.4 L707.77,652.4 L749.50,673.80 L748.20,673.80 Z M713.97,652.4 L715.27,652.4 L757.00,673.80 L755.70,673.80 Z M721.47,652.4 L722.77,652.4 L764.50,673.80 L763.20,673.80 Z M728.97,652.4 L730.27,652.4 L772.00,673.80 L770.70,673.80 Z M736.47,652.4 L737.77,652.4 L779.50,673.80 L778.20,673.80 Z M743.97,652.4 L745.27,652.4 L787.00,673.80 L785.70,673.80 Z" fill="#85878a"/><path d="M81.77,652.4 L83.97,652.4 L125.70,673.80 L123.50,673.80 Z M89.27,652.4 L91.47,652.4 L133.20,673.80 L131.00,673.80 Z M96.77,652.4 L98.97,652.4 L140.70,673.80 L138.50,673.80 Z M104.27,652.4 L106.47,652.4 L148.20,673.80 L146.00,673.80 Z M111.77,652.4 L113.97,652.4 L155.70,673.80 L153.50,673.80 Z M119.27,652.4 L121.47,652.4 L163.20,673.80 L161.00,673.80 Z M126.77,652.4 L128.97,652.4 L170.70,673.80 L168.50,673.80 Z M134.27,652.4 L136.47,652.4 L178.20,673.80 L176.00,673.80 Z M141.77,652.4 L143.97,652.4 L185.70,673.80 L183.50,673.80 Z M149.27,652.4 L151.47,652.4 L193.20,673.80 L191.00,673.80 Z M156.77,652.4 L158.97,652.4 L200.70,673.80 L198.50,673.80 Z M164.27,652.4 L166.47,652.4 L208.20,673.80 L206.00,673.80 Z M171.77,652.4 L173.97,652.4 L215.70,673.80 L213.50,673.80 Z M179.27,652.4 L181.47,652.4 L223.20,673.80 L221.00,673.80 Z M186.77,652.4 L188.97,652.4 L230.70,673.80 L228.50,673.80 Z M194.27,652.4 L196.47,652.4 L238.20,673.80 L236.00,673.80 Z M201.77,652.4 L203.97,652.4 L245.70,673.80 L243.50,673.80 Z M209.27,652.4 L211.47,652.4 L253.20,673.80 L251.00,673.80 Z M216.77,652.4 L218.97,652.4 L260.70,673.80 L258.50,673.80 Z M224.27,652.4 L226.47,652.4 L268.20,673.80 L266.00,673.80 Z M231.77,652.4 L233.97,652.4 L275.70,673.80 L273.50,673.80 Z M239.27,652.4 L241.47,652.4 L283.20,673.80 L281.00,673.80 Z M246.77,652.4 L248.97,652.4 L290.70,673.80 L288.50,673.80 Z M254.27,652.4 L256.47,652.4 L298.20,673.80 L296.00,673.80 Z M261.77,652.4 L263.97,652.4 L305.70,673.80 L303.50,673.80 Z M269.27,652.4 L271.47,652.4 L313.20,673.80 L311.00,673.80 Z M276.77,652.4 L278.97,652.4 L320.70,673.80 L318.50,673.80 Z M284.27,652.4 L286.47,652.4 L328.20,673.80 L326.00,673.80 Z M291.77,652.4 L293.97,652.4 L335.70,673.80 L333.50,673.80 Z M299.27,652.4 L301.47,652.4 L343.20,673.80 L341.00,673.80 Z M306.77,652.4 L308.97,652.4 L350.70,673.80 L348.50,673.80 Z M314.27,652.4 L316.47,652.4 L358.20,673.80 L356.00,673.80 Z M321.77,652.4 L323.97,652.4 L365.70,673.80 L363.50,673.80 Z M329.27,652.4 L331.47,652.4 L373.20,673.80 L371.00,673.80 Z M336.77,652.4 L338.97,652.4 L380.70,673.80 L378.50,673.80 Z M344.27,652.4 L346.47,652.4 L388.20,673.80 L386.00,673.80 Z M351.77,652.4 L353.97,652.4 L395.70,673.80 L393.50,673.80 Z M359.27,652.4 L361.47,652.4 L403.20,673.80 L401.00,673.80 Z M366.77,652.4 L368.97,652.4 L410.70,673.80 L408.50,673.80 Z M374.27,652.4 L376.47,652.4 L418.20,673.80 L416.00,673.80 Z M381.77,652.4 L383.97,652.4 L425.70,673.80 L423.50,673.80 Z M389.27,652.4 L391.47,652.4 L433.20,673.80 L431.00,673.80 Z M396.77,652.4 L398.97,652.4 L440.70,673.80 L438.50,673.80 Z M404.27,652.4 L406.47,652.4 L448.20,673.80 L446.00,673.80 Z M411.77,652.4 L413.97,652.4 L455.70,673.80 L453.50,673.80 Z M419.27,652.4 L421.47,652.4 L463.20,673.80 L461.00,673.80 Z M426.77,652.4 L428.97,652.4 L470.70,673.80 L468.50,673.80 Z M434.27,652.4 L436.47,652.4 L478.20,673.80 L476.00,673.80 Z M441.77,652.4 L443.97,652.4 L485.70,673.80 L483.50,673.80 Z M449.27,652.4 L451.47,652.4 L493.20,673.80 L491.00,673.80 Z M456.77,652.4 L458.97,652.4 L500.70,673.80 L498.50,673.80 Z M464.27,652.4 L466.47,652.4 L508.20,673.80 L506.00,673.80 Z M471.77,652.4 L473.97,652.4 L515.70,673.80 L513.50,673.80 Z M479.27,652.4 L481.47,652.4 L523.20,673.80 L521.00,673.80 Z M486.77,652.4 L488.97,652.4 L530.70,673.80 L528.50,673.80 Z M494.27,652.4 L496.47,652.4 L538.20,673.80 L536.00,673.80 Z M501.77,652.4 L503.97,652.4 L545.70,673.80 L543.50,673.80 Z M509.27,652.4 L511.47,652.4 L553.20,673.80 L551.00,673.80 Z M516.77,652.4 L518.97,652.4 L560.70,673.80 L558.50,673.80 Z M524.27,652.4 L526.47,652.4 L568.20,673.80 L566.00,673.80 Z M531.77,652.4 L533.97,652.4 L575.70,673.80 L573.50,673.80 Z M539.27,652.4 L541.47,652.4 L583.20,673.80 L581.00,673.80 Z M546.77,652.4 L548.97,652.4 L590.70,673.80 L588.50,673.80 Z M554.27,652.4 L556.47,652.4 L598.20,673.80 L596.00,673.80 Z M561.77,652.4 L563.97,652.4 L605.70,673.80 L603.50,673.80 Z M569.27,652.4 L571.47,652.4 L613.20,673.80 L611.00,673.80 Z M576.77,652.4 L578.97,652.4 L620.70,673.80 L618.50,673.80 Z M584.27,652.4 L586.47,652.4 L628.20,673.80 L626.00,673.80 Z M591.77,652.4 L593.97,652.4 L635.70,673.80 L633.50,673.80 Z M599.27,652.4 L601.47,652.4 L643.20,673.80 L641.00,673.80 Z M606.77,652.4 L608.97,652.4 L650.70,673.80 L648.50,673.80 Z M614.27,652.4 L616.47,652.4 L658.20,673.80 L656.00,673.80 Z M621.77,652.4 L623.97,652.4 L665.70,673.80 L663.50,673.80 Z M629.27,652.4 L631.47,652.4 L673.20,673.80 L671.00,673.80 Z M636.77,652.4 L638.97,652.4 L680.70,673.80 L678.50,673.80 Z M644.27,652.4 L646.47,652.4 L688.20,673.80 L686.00,673.80 Z M651.77,652.4 L653.97,652.4 L695.70,673.80 L693.50,673.80 Z M659.27,652.4 L661.47,652.4 L703.20,673.80 L701.00,673.80 Z M666.77,652.4 L668.97,652.4 L710.70,673.80 L708.50,673.80 Z M674.27,652.4 L676.47,652.4 L718.20,673.80 L716.00,673.80 Z M681.77,652.4 L683.97,652.4 L725.70,673.80 L723.50,673.80 Z M689.27,652.4 L691.47,652.4 L733.20,673.80 L731.00,673.80 Z M696.77,652.4 L698.97,652.4 L740.70,673.80 L738.50,673.80 Z M704.27,652.4 L706.47,652.4 L748.20,673.80 L746.00,673.80 Z M711.77,652.4 L713.97,652.4 L755.70,673.80 L753.50,673.80 Z M719.27,652.4 L721.47,652.4 L763.20,673.80 L761.00,673.80 Z M726.77,652.4 L728.97,652.4 L770.70,673.80 L768.50,673.80 Z M734.27,652.4 L736.47,652.4 L778.20,673.80 L776.00,673.80 Z M741.77,652.4 L743.97,652.4 L785.70,673.80 L783.50,673.80 Z" fill="#414141"/></g>
<path d="M139.5,652.4 H723 L740.6,662.6 H147.5 L157.5,672.8 L149.5,673.3 L134.5,658.6 Q132.0,653.4 139.5,652.4 Z" fill="none" stroke="#3c3c3c" stroke-width="0.9"/>
<circle cx="154.5" cy="667.8" r="4.6" fill="#0a0a0a"/>
<circle cx="195" cy="667.8" r="4.6" fill="#0a0a0a"/>
<circle cx="238.6" cy="667.8" r="4.6" fill="#0a0a0a"/>
<circle cx="284" cy="667.8" r="4.6" fill="#0a0a0a"/>
<circle cx="329" cy="667.8" r="4.6" fill="#0a0a0a"/>
<circle cx="373.7" cy="667.8" r="4.6" fill="#0a0a0a"/>
<circle cx="416.5" cy="667.8" r="4.6" fill="#0a0a0a"/>
<circle cx="461.5" cy="667.8" r="4.6" fill="#0a0a0a"/>
<circle cx="505" cy="667.8" r="4.6" fill="#0a0a0a"/>
<circle cx="552" cy="667.8" r="4.6" fill="#0a0a0a"/>
<circle cx="595.7" cy="667.8" r="4.6" fill="#0a0a0a"/>
<circle cx="638.7" cy="667.8" r="4.6" fill="#0a0a0a"/>
<circle cx="689" cy="667.8" r="4.6" fill="#0a0a0a"/>
<circle cx="736.6" cy="667.8" r="4.6" fill="#0a0a0a"/>
<g id="idea">
<path d="M127.6,205.2 V177 Q128,171 136,169.2 Q144,167.6 156,170 Q169,172.5 170.8,177.5 V190 L150,200 Z" fill="#a9a9a9" stroke="#5a5a5a" stroke-width="1"/>
<path d="M127.6,196 L127.6,205.2 L153.9,223 L153.9,212 Z" fill="#9c9c9c" stroke="#5a5a5a" stroke-width="0.8"/>
<path d="M130.5,191.5 Q133,188.5 139,189 L150,186 Q160,183 166,185.5 L180,190 L208,199 L208,206 L154,213.5 L137,207.5 L130.5,198 Z" fill="#fff" stroke="#333" stroke-width="1.1"/>
<path d="M137,207.5 Q135.5,199 139.5,194.5 Q148,188 158,186" fill="none" stroke="#333" stroke-width="0.9"/>
<path d="M140.5,209 Q139,200 143,196 Q151,190 161,187.5" fill="none" stroke="#333" stroke-width="0.9"/>
<path d="M153.9,223 V211.5 Q155,204.5 166,200.5 Q176,197.6 190,198 Q206,198.4 209.4,200 L209.8,214.6 Z" fill="#a9a9a9" stroke="#5a5a5a" stroke-width="1"/>
<path d="M151.4,174 L140.5,190.8" stroke="#0c0c0c" stroke-width="3.2" stroke-linecap="round" fill="none"/>
<path d="M149.6,170.6 L158.6,169.6 L161.5,184.5 L149.5,187.4 Z" fill="#0c0c0c"/>
<path d="M157.5,172 L166.6,165.5 L166.5,155" stroke="#0c0c0c" stroke-width="3.8" stroke-linecap="round" stroke-linejoin="round" fill="none"/>
<path d="M165.9,156 V147.6" stroke="#0c0c0c" stroke-width="2" stroke-linecap="round"/>
<circle cx="153.9" cy="165.2" r="4.3" fill="#0c0c0c"/>
</g>
<g id="story">
<ellipse cx="243" cy="244" rx="17" ry="2.6" fill="#b5b5b5" filter="url(#blur1)"/>
<path d="M243.7,160.5 L325.6,155.4 L326.8,195.8 L248.5,206.8 Z" fill="#fff" stroke="#111" stroke-width="1.8" stroke-linejoin="round"/>
<g fill="#a6a6a6"><polygon points="251.2,165.4 258.8,164.9 259.2,168.9 251.6,169.4"/><polygon points="260.4,164.8 268.0,164.4 268.4,168.4 260.8,168.8"/><polygon points="269.5,164.3 277.2,163.8 277.5,167.8 269.9,168.3"/><polygon points="278.7,163.7 286.3,163.2 286.7,167.2 279.1,167.7"/><polygon points="287.9,163.1 295.5,162.6 295.9,166.7 288.3,167.1"/><polygon points="297.1,162.6 304.7,162.1 305.1,166.1 297.4,166.6"/><polygon points="306.2,162.0 313.8,161.5 314.2,165.5 306.6,166.0"/><polygon points="315.4,161.4 323.0,160.9 323.4,164.9 315.8,165.4"/><polygon points="251.7,170.5 259.3,170.0 259.7,174.1 252.1,174.5"/><polygon points="260.9,170.0 268.5,169.5 268.9,173.5 261.3,174.0"/><polygon points="270.0,169.4 277.7,168.9 278.1,172.9 270.4,173.4"/><polygon points="279.2,168.8 286.8,168.3 287.2,172.3 279.6,172.8"/><polygon points="288.4,168.2 296.0,167.8 296.4,171.8 288.8,172.2"/><polygon points="297.6,167.7 305.2,167.2 305.6,171.2 298.0,171.7"/><polygon points="306.7,167.1 314.3,166.6 314.7,170.6 307.1,171.1"/><polygon points="315.9,166.5 323.5,166.1 323.9,170.1 316.3,170.5"/><polygon points="252.2,175.6 259.8,175.2 260.2,179.2 252.6,179.6"/><polygon points="261.4,175.1 269.0,174.6 269.4,178.6 261.8,179.1"/><polygon points="270.5,174.5 278.2,174.0 278.6,178.0 270.9,178.5"/><polygon points="279.7,173.9 287.3,173.5 287.7,177.5 280.1,177.9"/><polygon points="288.9,173.4 296.5,172.9 296.9,176.9 289.3,177.4"/><polygon points="298.1,172.8 305.7,172.3 306.1,176.3 298.5,176.8"/><polygon points="307.2,172.2 314.9,171.7 315.3,175.7 307.6,176.2"/><polygon points="316.4,171.6 324.0,171.2 324.4,175.2 316.8,175.6"/><polygon points="252.7,180.8 260.3,180.3 260.7,184.3 253.1,184.8"/><polygon points="261.9,180.2 269.5,179.7 269.9,183.7 262.3,184.2"/><polygon points="271.1,179.6 278.7,179.1 279.1,183.1 271.4,183.6"/><polygon points="280.2,179.0 287.8,178.6 288.2,182.6 280.6,183.1"/><polygon points="289.4,178.5 297.0,178.0 297.4,182.0 289.8,182.5"/><polygon points="298.6,177.9 306.2,177.4 306.6,181.4 299.0,181.9"/><polygon points="307.7,177.3 315.4,176.9 315.8,180.9 308.1,181.3"/><polygon points="316.9,176.8 324.5,176.3 324.9,180.3 317.3,180.8"/><polygon points="253.2,185.9 260.8,185.4 261.2,189.4 253.6,189.9"/><polygon points="262.4,185.3 270.0,184.8 270.4,188.8 262.8,189.3"/><polygon points="271.6,184.7 279.2,184.3 279.6,188.3 272.0,188.7"/><polygon points="280.7,184.2 288.3,183.7 288.7,187.7 281.1,188.2"/><polygon points="289.9,183.6 297.5,183.1 297.9,187.1 290.3,187.6"/><polygon points="299.1,183.0 306.7,182.5 307.1,186.6 299.5,187.0"/><polygon points="308.3,182.4 315.9,182.0 316.3,186.0 308.6,186.5"/><polygon points="317.4,181.9 325.0,181.4 325.4,185.4 317.8,185.9"/><polygon points="253.7,191.0 261.3,190.5 261.7,194.5 254.1,195.0"/><polygon points="262.9,190.4 270.5,189.9 270.9,194.0 263.3,194.4"/><polygon points="272.1,189.9 279.7,189.4 280.1,193.4 272.5,193.9"/><polygon points="281.2,189.3 288.9,188.8 289.3,192.8 281.6,193.3"/><polygon points="290.4,188.7 298.0,188.2 298.4,192.2 290.8,192.7"/><polygon points="299.6,188.1 307.2,187.7 307.6,191.7 300.0,192.1"/><polygon points="308.8,187.6 316.4,187.1 316.8,191.1 309.2,191.6"/><polygon points="317.9,187.0 325.5,186.5 325.9,190.5 318.3,191.0"/><polygon points="254.2,196.1 261.8,195.6 262.2,199.6 254.6,200.1"/><polygon points="263.4,195.5 271.0,195.1 271.4,199.1 263.8,199.5"/><polygon points="272.6,195.0 280.2,194.5 280.6,198.5 273.0,199.0"/><polygon points="281.7,194.4 289.4,193.9 289.8,197.9 282.1,198.4"/><polygon points="290.9,193.8 298.5,193.4 298.9,197.4 291.3,197.8"/><polygon points="300.1,193.3 307.7,192.8 308.1,196.8 300.5,197.3"/><polygon points="309.3,192.7 316.9,192.2 317.3,196.2 309.7,196.7"/><polygon points="318.4,192.1 326.1,191.6 326.4,195.6 318.8,196.1"/></g>
<rect x="312" y="167.8" width="25.5" height="13.6" fill="#fff" stroke="#555" stroke-width="1.2"/>
<rect x="341.4" y="165.3" width="37.2" height="19.4" fill="#fff" stroke="#555" stroke-width="1.2"/>
<path d="M254,205 L274,179.8" stroke="#0c0c0c" stroke-width="1.8" stroke-linecap="round"/>
<path d="M235.2,203 L245,204.6 L242.5,224.5 L228.5,227 Z" fill="#0c0c0c"/>
<path d="M237.5,205.5 L222.8,189.5" stroke="#0c0c0c" stroke-width="4" stroke-linecap="round"/>
<path d="M222.8,189.5 L218.6,184 M222.8,189.5 L221.2,182.6 M222.8,189.5 L224,183 M222.8,189.5 L217.2,187.6 M222.8,189.5 L226.2,185.5" stroke="#0c0c0c" stroke-width="1.5" stroke-linecap="round"/>
<path d="M242.5,207 L249,212.6 L255.4,202.6" stroke="#0c0c0c" stroke-width="3.8" stroke-linecap="round" stroke-linejoin="round" fill="none"/>
<path d="M233,222 L223,242.6 L230,245.8" stroke="#0c0c0c" stroke-width="5.2" stroke-linecap="round" stroke-linejoin="round" fill="none"/>
<path d="M238,223 L250.4,228.4 L246,241.6 L255,242.6" stroke="#0c0c0c" stroke-width="5" stroke-linecap="round" stroke-linejoin="round" fill="none"/>
<circle cx="240.7" cy="196.8" r="4.7" fill="#0c0c0c"/>
<path d="M262,258.5 L372,233.5 L378,238 L276,263.5 Z" fill="#b4b4b4" filter="url(#soft)"/>
<path d="M353,205 Q356,200.5 362,200.5 L372,203.5 L376.4,210 L374.5,221.5 L368,228 L353,231 L351,215 Z" fill="#0c0c0c"/>
<path d="M357.4,190.4 L365,188.6 L366,193 L365,199.6 L358.8,200.8 L357,196 Z" fill="#0c0c0c"/>
<path d="M356.8,190.6 L364.4,187.4 L366.6,189.8 L357.6,192.2 Z" fill="#0c0c0c"/>
<path d="M358,193.6 L361,193 L361,194.6 L358.2,195.2 Z" fill="#fff"/>
<path d="M359.8,228.8 L355.8,239.8 M359.8,228.8 L363.8,239.8 M373.0,225.8 L370.0,236.2 M373.0,225.8 L377.0,236.2" stroke="#0c0c0c" stroke-width="1.7" fill="none" stroke-linecap="round"/><path d="M358.8,213.8 L372.0,210.8 L373.0,221.2 L359.8,224.2 Z" fill="#fff" stroke="#0c0c0c" stroke-width="1.7" stroke-linejoin="round"/><path d="M359.8,228.8 L373.0,225.8" stroke="#0c0c0c" stroke-width="3.6"/>
<path d="M353,231 L352,240 L358,240" stroke="#0c0c0c" stroke-width="3" fill="none"/>
<path d="M342.4,206.4 L348,206.4 L351.5,219.5 L351.5,225.5 L338,227.5 L338,221.5 Z" fill="#0c0c0c"/>
<ellipse cx="345" cy="202.9" rx="4.3" ry="5.2" fill="#0c0c0c" transform="rotate(15 345 202.9)"/>
<path d="M339.8,232.5 L335.8,243.5 M339.8,232.5 L343.8,243.5 M352.2,229.5 L349.2,240.0 M352.2,229.5 L356.2,240.0" stroke="#0c0c0c" stroke-width="1.7" fill="none" stroke-linecap="round"/><path d="M338.8,218.0 L351.2,215.0 L352.2,225.0 L339.8,228.0 Z" fill="#fff" stroke="#0c0c0c" stroke-width="1.7" stroke-linejoin="round"/><path d="M339.8,232.5 L352.2,229.5" stroke="#0c0c0c" stroke-width="3.6"/>
<path d="M340,230.5 L335,233.5 L336,243.5" stroke="#0c0c0c" stroke-width="2.6" fill="none" stroke-linecap="round" stroke-linejoin="round"/>
<path d="M325.2,210.3 L330.8,210.3 L335.5,223.8 L335.5,229.8 L322,231.8 L322,225.8 Z" fill="#0c0c0c"/>
<ellipse cx="327.8" cy="206.8" rx="4.3" ry="5.2" fill="#0c0c0c" transform="rotate(15 327.8 206.8)"/>
<path d="M323.8,236.8 L319.8,247.8 M323.8,236.8 L327.8,247.8 M336.2,233.8 L333.2,244.3 M336.2,233.8 L340.2,244.3" stroke="#0c0c0c" stroke-width="1.7" fill="none" stroke-linecap="round"/><path d="M322.8,222.3 L335.2,219.3 L336.2,229.3 L323.8,232.3 Z" fill="#fff" stroke="#0c0c0c" stroke-width="1.7" stroke-linejoin="round"/><path d="M323.8,236.8 L336.2,233.8" stroke="#0c0c0c" stroke-width="3.6"/>
<path d="M324,234.8 L319,237.8 L320,247.8" stroke="#0c0c0c" stroke-width="2.6" fill="none" stroke-linecap="round" stroke-linejoin="round"/>
<path d="M309.4,213.2 L315,213.2 L319.5,228 L319.5,234 L306,236 L306,230 Z" fill="#0c0c0c"/>
<ellipse cx="312" cy="209.7" rx="4.3" ry="5.2" fill="#0c0c0c" transform="rotate(15 312 209.7)"/>
<path d="M307.8,241.0 L303.8,252.0 M307.8,241.0 L311.8,252.0 M320.2,238.0 L317.2,248.5 M320.2,238.0 L324.2,248.5" stroke="#0c0c0c" stroke-width="1.7" fill="none" stroke-linecap="round"/><path d="M306.8,226.5 L319.2,223.5 L320.2,233.5 L307.8,236.5 Z" fill="#fff" stroke="#0c0c0c" stroke-width="1.7" stroke-linejoin="round"/><path d="M307.8,241.0 L320.2,238.0" stroke="#0c0c0c" stroke-width="3.6"/>
<path d="M308,239 L303,242 L304,252" stroke="#0c0c0c" stroke-width="2.6" fill="none" stroke-linecap="round" stroke-linejoin="round"/>
<path d="M290.29999999999995,217.9 L295.9,217.9 L302.5,232.3 L302.5,238.3 L289,240.3 L289,234.3 Z" fill="#0c0c0c"/>
<ellipse cx="292.9" cy="214.4" rx="4.3" ry="5.2" fill="#0c0c0c" transform="rotate(15 292.9 214.4)"/>
<path d="M290.8,245.3 L286.8,256.3 M290.8,245.3 L294.8,256.3 M303.2,242.3 L300.2,252.8 M303.2,242.3 L307.2,252.8" stroke="#0c0c0c" stroke-width="1.7" fill="none" stroke-linecap="round"/><path d="M289.8,230.8 L302.2,227.8 L303.2,237.8 L290.8,240.8 Z" fill="#fff" stroke="#0c0c0c" stroke-width="1.7" stroke-linejoin="round"/><path d="M290.8,245.3 L303.2,242.3" stroke="#0c0c0c" stroke-width="3.6"/>
<path d="M291,243.3 L286,246.3 L287,256.3" stroke="#0c0c0c" stroke-width="2.6" fill="none" stroke-linecap="round" stroke-linejoin="round"/>
<ellipse cx="275" cy="227.3" rx="6.2" ry="4.6" fill="#0c0c0c" transform="rotate(-20 275 227.3)"/>
<path d="M272,231 L280,232 L278,245 L266,247 Z" fill="#0c0c0c"/>
<path d="M273.2,249.5 L269.2,260.5 M273.2,249.5 L277.2,260.5 M285.8,246.5 L282.8,257.0 M285.8,246.5 L289.8,257.0" stroke="#0c0c0c" stroke-width="1.7" fill="none" stroke-linecap="round"/><path d="M272.2,235.0 L284.8,232.0 L285.8,242.0 L273.2,245.0 Z" fill="#fff" stroke="#0c0c0c" stroke-width="1.7" stroke-linejoin="round"/><path d="M273.2,249.5 L285.8,246.5" stroke="#0c0c0c" stroke-width="3.6"/>
<path d="M272,244 L262,248 L259,255" stroke="#0c0c0c" stroke-width="3.4" fill="none" stroke-linecap="round" stroke-linejoin="round"/>
<ellipse cx="259.6" cy="254.6" rx="4.8" ry="3" fill="#0c0c0c" transform="rotate(35 259.6 254.6)"/>
</g>
<g id="storyboard">
<rect x="518.0" y="148.4" width="3.6" height="4.8" fill="#ebebeb"/><rect x="518.0" y="198.6" width="3.6" height="5" fill="#ebebeb"/><rect x="524.1" y="148.4" width="3.6" height="4.8" fill="#dfdfdf"/><rect x="524.1" y="198.6" width="3.6" height="5" fill="#dfdfdf"/><rect x="530.3" y="148.4" width="3.6" height="4.8" fill="#d4d4d4"/><rect x="530.3" y="198.6" width="3.6" height="5" fill="#d4d4d4"/><rect x="536.5" y="148.4" width="3.6" height="4.8" fill="#c9c9c9"/><rect x="536.5" y="198.6" width="3.6" height="5" fill="#c9c9c9"/><rect x="542.6" y="148.4" width="3.6" height="4.8" fill="#bebebe"/><rect x="542.6" y="198.6" width="3.6" height="5" fill="#bebebe"/><rect x="548.8" y="148.4" width="3.6" height="4.8" fill="#b2b2b2"/><rect x="548.8" y="198.6" width="3.6" height="5" fill="#b2b2b2"/><rect x="554.9" y="148.4" width="3.6" height="4.8" fill="#a7a7a7"/><rect x="554.9" y="198.6" width="3.6" height="5" fill="#a7a7a7"/><rect x="561.0" y="148.4" width="3.6" height="4.8" fill="#9c9c9c"/><rect x="561.0" y="198.6" width="3.6" height="5" fill="#9c9c9c"/><rect x="567.2" y="148.4" width="3.6" height="4.8" fill="#919191"/><rect x="567.2" y="198.6" width="3.6" height="5" fill="#919191"/><rect x="573.4" y="148.4" width="3.6" height="4.8" fill="#858585"/><rect x="573.4" y="198.6" width="3.6" height="5" fill="#858585"/><rect x="579.5" y="148.4" width="3.6" height="4.8" fill="#7a7a7a"/><rect x="579.5" y="198.6" width="3.6" height="5" fill="#7a7a7a"/><rect x="585.6" y="148.4" width="3.6" height="4.8" fill="#6f6f6f"/><rect x="585.6" y="198.6" width="3.6" height="5" fill="#6f6f6f"/><rect x="591.8" y="148.4" width="3.6" height="4.8" fill="#646464"/><rect x="591.8" y="198.6" width="3.6" height="5" fill="#646464"/>
<rect x="382.1" y="155.5" width="81.5" height="40.9" fill="#fff" stroke="#444" stroke-width="1.8"/>
<rect x="467.4" y="155.5" width="81.4" height="40.9" fill="#fff" stroke="#444" stroke-width="1.8"/>
<rect x="553" y="155.5" width="43.0" height="40.9" fill="#fff" stroke="#444" stroke-width="1.8"/>
<g stroke="#2a2a2a" stroke-width="1.05" fill="none" stroke-linecap="round" stroke-linejoin="round">
<circle cx="414.9" cy="180.3" r="10"/>
<path d="M396.8,193.4 Q399,190 398.6,187 Q393.6,174 394.8,167.4 Q396.4,163.4 399.4,165 Q402.6,170 404.8,177.4"/>
<path d="M411.6,170.4 Q419,162 427.4,161 Q430,162.4 427.6,166 Q424.6,169.6 421.4,172"/>
<path d="M423.4,173 Q432,168.6 437.6,168.6 Q440,170.4 437.4,173.4 Q433,176.6 426.8,178.4"/>
<path d="M424,188.4 Q431,186 436,186.8 Q438,189 434.6,191.6 Q428,194.6 422.6,195.2"/>
<path d="M409.6,174 Q405.6,181 410.4,187 M412.6,174.6 Q409.6,181 416.4,186 M416,176.6 L414.4,179.6 M421,180.4 L419.6,183"/>
</g>
<g stroke="#2a2a2a" stroke-width="1.05" fill="none" stroke-linecap="round" stroke-linejoin="round">
<path d="M484.6,184 Q480.6,172 488,166 Q496,161.6 502.6,168 Q507,175 503,183"/>
<path d="M486.4,167.2 Q478,160.6 473,162.4 Q470.6,165.6 476,168.6 Q480,170.6 483.4,171.4"/>
<path d="M482.8,172.6 Q475,172.6 471.6,176 Q471.6,179.6 476,179.4 Q480,178.6 482.2,178"/>
<circle cx="495" cy="176.6" r="2.9"/>
<path d="M493,180 Q491,186 486,192.6 M496.6,181 L498.4,192 M500.6,178 Q507,184 509.4,192.6 M503.4,176 Q506,178 507.6,181.6"/>
<path d="M523,172 Q515,167 512.4,167.6 Q512.4,170.4 520.6,174.4 M527.4,171 Q524.6,163 522.2,162 Q520.6,164 523.6,171"/>
<path d="M521.6,175 Q524,170.6 529,171 Q533.6,173 533,178 Q531.4,182.6 527,182.6 Q522,181.6 521.6,175"/>
<path d="M524.6,175.4 L527.4,176.4 M529.4,175 L531.6,174.6 M525.6,179.4 Q528,178.4 530,180"/>
<path d="M525,183 Q521.6,188 526,196 M532,182 Q537.6,186 538,196 M526.6,186.6 Q530,184 532,188 Q531,190.6 528.6,190 L529.6,196"/>
<path d="M540.6,176 Q537.4,169.6 538.6,168.4 Q541,168 542.4,173.6 Q543,167.6 545,167 Q547,168 545.4,175.6 Q548,180 546.4,186 L547,196 M540.6,176 Q538,181 540.4,186 Q539.6,190 540,196"/>
</g>
<g stroke="#2a2a2a" stroke-width="1.05" fill="none" stroke-linecap="round" stroke-linejoin="round">
<path d="M554.4,188.4 Q572,182.6 596,184"/>
<path d="M574.8,183.6 Q573.6,174 577,170.6 Q583,166.6 589,171 Q592,175 588,180.6 M579.6,183 Q580,176 582.6,176 Q584,178 583.6,183 M586.4,174 Q588,178 587,182.6"/>
<path d="M583,160.4 V166 M581.4,163 L583,164.4 L584.6,163"/>
</g>
<g fill="#fbfbfb" stroke="#adadad" stroke-width="0.9"><polygon points="379.0,218.5 389.3,218.7 390.8,221.5 380.5,221.3"/><polygon points="398.0,217.5 407.3,217.3 408.8,220.6 399.5,220.7"/><polygon points="412.0,222.5 421.2,221.9 422.7,225.1 413.5,225.7"/><polygon points="420.0,218.5 430.7,218.0 432.2,220.7 421.5,221.2"/><polygon points="432.0,223.0 442.7,222.5 444.2,226.1 433.5,226.6"/><polygon points="441.0,220.0 450.9,220.6 452.4,223.9 442.5,223.4"/><polygon points="450.0,216.0 461.3,216.6 462.8,219.7 451.5,219.1"/><polygon points="455.0,221.5 464.2,221.2 465.7,224.9 456.5,225.1"/><polygon points="461.0,218.0 470.6,217.8 472.1,220.5 462.5,220.7"/><polygon points="468.0,222.0 480.3,222.1 481.8,224.9 469.5,224.8"/><polygon points="474.0,219.0 485.6,219.1 487.1,222.1 475.5,222.0"/><polygon points="481.0,224.0 490.3,223.6 491.8,226.3 482.5,226.7"/><polygon points="489.0,217.0 500.7,216.8 502.2,219.9 490.5,220.1"/><polygon points="486.0,221.0 497.3,220.7 498.8,223.9 487.5,224.1"/><polygon points="463.0,224.5 475.2,224.2 476.7,227.6 464.5,227.9"/><polygon points="445.0,225.0 456.3,225.5 457.8,228.7 446.5,228.2"/><polygon points="507.0,223.0 518.9,223.6 520.4,226.5 508.5,225.9"/><polygon points="515.0,219.5 524.5,219.8 526.0,222.9 516.5,222.6"/><polygon points="529.0,217.0 538.6,216.4 540.1,219.6 530.5,220.2"/><polygon points="526.0,221.0 537.7,221.1 539.2,224.6 527.5,224.5"/><polygon points="553.0,219.0 565.5,219.2 567.0,222.2 554.5,222.0"/><polygon points="470.0,214.5 481.4,214.4 482.9,217.7 471.5,217.8"/><polygon points="458.0,215.0 470.4,215.0 471.9,218.7 459.5,218.7"/><polygon points="436.0,217.0 447.7,217.3 449.2,219.9 437.5,219.7"/><polygon points="447.0,219.4 458.6,219.8 460.1,223.6 448.5,223.2"/><polygon points="476.0,216.4 486.1,216.6 487.6,219.7 477.5,219.5"/><polygon points="493.0,220.4 502.1,220.0 503.6,223.1 494.5,223.6"/><polygon points="500.0,217.6 509.5,217.9 511.0,220.6 501.5,220.3"/><polygon points="452.0,223.6 461.5,223.5 463.0,226.4 453.5,226.5"/><polygon points="472.0,225.4 484.5,225.3 486.0,228.0 473.5,228.1"/><polygon points="483.0,219.0 494.2,219.4 495.7,223.1 484.5,222.7"/><polygon points="540.0,220.6 552.5,220.5 554.0,223.4 541.5,223.5"/><polygon points="425.0,221.6 435.4,222.2 436.9,225.8 426.5,225.3"/><polygon points="466.0,220.4 475.6,220.1 477.1,222.9 467.5,223.2"/><polygon points="479.0,221.8 488.9,221.9 490.4,225.1 480.5,225.0"/><polygon points="560.0,221.8 570.1,221.7 571.6,224.3 561.5,224.4"/><polygon points="405.0,220.0 415.5,220.6 417.0,223.8 406.5,223.3"/><polygon points="390.0,220.6 401.8,220.7 403.3,224.0 391.5,223.8"/></g>
<g stroke="#0c0c0c" fill="none" stroke-linecap="round" stroke-linejoin="round">
<path d="M570,228 L546,232 L527,231 L526,227" stroke-width="4"/>
<path d="M556,231 L540.5,238 L538,235" stroke-width="3.6"/>
<path d="M570,229.5 L584,231 L596,232" stroke-width="2.4"/>
<path d="M596,232 L599,230.5 M596,232 L599.5,232.5 M596,232 L598.5,234.5" stroke-width="1"/>
<path d="M571,226 L563,221.5" stroke-width="2"/>
<path d="M563,221.5 L560.5,219.5 M563,221.5 L560,221.5" stroke-width="0.9"/>
</g>
<ellipse cx="576.6" cy="224.6" rx="5.4" ry="3.6" fill="#0c0c0c" transform="rotate(-15 576.6 224.6)"/>
</g>
<g id="animatic">
<path d="M609,260.5 L714,239 L720,243.5 L624,265 Z" fill="#b4b4b4" filter="url(#soft)"/>
<ellipse cx="722" cy="213" rx="12" ry="2.2" fill="#c4c4c4" filter="url(#blur1)"/>
<path d="M592.4,150.8 L682.9,140.9 L682.9,196 L592.4,209.7 Z" fill="#0a0a0a"/>
<path d="M596.6,155 L678.6,145.7 L678.6,191.8 L596.6,204.4 Z" fill="#fff"/>
<g stroke="#1a1a1a" stroke-width="1.1" fill="none" stroke-linecap="round" stroke-linejoin="round">
<path d="M617,177 Q614,166 622,163 Q631,160 635,168 Q638,178 631,183 Q622,187 617,177"/>
<path d="M619,166 Q611,160 608,162.5 Q607,167 616,171"/>
<path d="M623,162 Q622,158 627,158.5 Q631,160 630,162.5"/>
<path d="M624,171 L629,172.5 M631,169 L634,168.5 M626,178 Q629,176.5 632,178.5"/>
<path d="M619,184 Q610,188 607,195 L612,196 L610,201 M632,184 Q650,176 654,166 Q656,160 660,161.5 Q662,166 656,176 Q648,188 622,202"/>
<path d="M600,196 Q599,187 601,181 Q600,173 602,172.5 Q604,174 604,180 Q606,174 608,174 Q609.5,176 606,184 Q608,190 605,198"/>
<path d="M657,181 Q656,172 662,171 Q668,171 669,177 Q669,184 664,186 Q658,187 657,181"/>
<path d="M661,171 Q660,156 664,154 Q667,156 666,171 M668,173 Q674,166 679,167"/>
<path d="M660,177 L662.5,177 M665,176.5 L667.5,176.5 M661.5,181 L665.5,181 L665,183.5 L662,183.5 Z"/>
<path d="M657,187 Q651,190 652,197 M668,186 Q676,188 678,193"/>
<path d="M641,156 L642.5,159 L646,159.5 L643.5,162 L644,165.5 L641,164 L638,165.5 L638.5,162 L636,159.5 L639.5,159 Z"/>
<path d="M669,152 L671,157 M666,154.5 L674,154.5 M667,151.5 L673,157.5"/>
<path d="M674,163 L675.5,166 L678,166.5 L676,168.5 L676.5,171 L674,170 L671.5,171 L672,168.5 L670,166.5 L672.5,166 Z"/>
</g>
<path d="M690,151.4 L700.3,188.4 L701.4,212 L711.6,212 L716.4,186 L730.6,150 L724.3,149.6 L712,167 L703.5,167.6 L696.2,151.6 Z" fill="#0c0c0c"/>
<g stroke="#0c0c0c" stroke-width="1.5" stroke-linecap="round"><path d="M692.4,151 L686.2,148 M692,150 L687.6,143.4 M692.6,150 L691.6,142.6 M693.4,150 L695.8,144.6 M694,151 L697.6,148.6"/><path d="M727.4,149.6 L723,147.2 M727,149 L725.6,142.6 M727.6,149 L729.4,142 M728,149 L733.4,144 M728,150 L734.4,148.6"/></g>
<ellipse cx="692.6" cy="150.6" rx="3.2" ry="2.4" fill="#0c0c0c"/><ellipse cx="727.6" cy="149.6" rx="3.2" ry="2.4" fill="#0c0c0c"/>
<path d="M703.5,150.8 L714.4,153.4 L711.8,163.8 L702.3,165.6 Z" fill="#0c0c0c"/>
<path d="M704.4,154.4 L709.6,155.4 L709.2,158 L707,157.6 L706.6,160.4 L703.8,160 Z" fill="#fff"/>
<path d="M704.8,167.6 L707.6,167.4 L707.2,176.6 Z M708.6,167.3 L711,167 L709,176.8 Z" fill="#fff"/>
</g>
<g id="animatic-audience">
<path d="M702.6,227.5 L698.6,238.5 M702.6,227.5 L706.6,238.5 M715.1,224.5 L712.1,235.0 M715.1,224.5 L719.1,235.0" stroke="#0c0c0c" stroke-width="1.7" fill="none" stroke-linecap="round"/><path d="M701.6,213.0 L714.1,210.0 L715.1,220.0 L702.6,223.0 Z" fill="#fff" stroke="#0c0c0c" stroke-width="1.7" stroke-linejoin="round"/><path d="M702.6,227.5 L715.1,224.5" stroke="#0c0c0c" stroke-width="3.6"/>
<path d="M682.6,213.2 L688.6,213.2 L696.5,219.4 L696.5,225.4 L683,227.4 L683,221.4 Z" fill="#0c0c0c"/>
<ellipse cx="685.6" cy="209.7" rx="5" ry="4.9" fill="#0c0c0c"/>
<path d="M684.8,232.4 L680.8,243.4 M684.8,232.4 L688.8,243.4 M697.2,229.4 L694.2,239.9 M697.2,229.4 L701.2,239.9" stroke="#0c0c0c" stroke-width="1.7" fill="none" stroke-linecap="round"/><path d="M683.8,217.9 L696.2,214.9 L697.2,224.9 L684.8,227.9 Z" fill="#fff" stroke="#0c0c0c" stroke-width="1.7" stroke-linejoin="round"/><path d="M684.8,232.4 L697.2,229.4" stroke="#0c0c0c" stroke-width="3.6"/>
<path d="M685,230.4 L680,233.4 L681,243.4" stroke="#0c0c0c" stroke-width="2.6" fill="none" stroke-linecap="round" stroke-linejoin="round"/>
<path d="M673,212.2 L679,212.2 L680.0,223.6 L680.0,229.6 L666.5,231.6 L666.5,225.6 Z" fill="#0c0c0c"/>
<ellipse cx="676" cy="208.7" rx="5" ry="4.9" fill="#0c0c0c"/>
<path d="M668.2,236.6 L664.2,247.6 M668.2,236.6 L672.2,247.6 M680.8,233.6 L677.8,244.1 M680.8,233.6 L684.8,244.1" stroke="#0c0c0c" stroke-width="1.7" fill="none" stroke-linecap="round"/><path d="M667.2,222.1 L679.8,219.1 L680.8,229.1 L668.2,232.1 Z" fill="#fff" stroke="#0c0c0c" stroke-width="1.7" stroke-linejoin="round"/><path d="M668.2,236.6 L680.8,233.6" stroke="#0c0c0c" stroke-width="3.6"/>
<path d="M668.5,234.6 L663.5,237.6 L664.5,247.6" stroke="#0c0c0c" stroke-width="2.6" fill="none" stroke-linecap="round" stroke-linejoin="round"/>
<path d="M656,216.5 L662,216.5 L663.5,228 L663.5,234 L650,236 L650,230 Z" fill="#0c0c0c"/>
<ellipse cx="659" cy="213" rx="5" ry="4.9" fill="#0c0c0c"/>
<path d="M651.8,241.0 L647.8,252.0 M651.8,241.0 L655.8,252.0 M664.2,238.0 L661.2,248.5 M664.2,238.0 L668.2,248.5" stroke="#0c0c0c" stroke-width="1.7" fill="none" stroke-linecap="round"/><path d="M650.8,226.5 L663.2,223.5 L664.2,233.5 L651.8,236.5 Z" fill="#fff" stroke="#0c0c0c" stroke-width="1.7" stroke-linejoin="round"/><path d="M651.8,241.0 L664.2,238.0" stroke="#0c0c0c" stroke-width="3.6"/>
<path d="M652,239 L647,242 L648,252" stroke="#0c0c0c" stroke-width="2.6" fill="none" stroke-linecap="round" stroke-linejoin="round"/>
<path d="M634,227.0 L640,227.0 L647.5,232.2 L647.5,238.2 L634,240.2 L634,234.2 Z" fill="#0c0c0c"/>
<ellipse cx="637" cy="223.5" rx="5" ry="4.9" fill="#0c0c0c"/>
<path d="M635.8,245.2 L631.8,256.2 M635.8,245.2 L639.8,256.2 M648.2,242.2 L645.2,252.7 M648.2,242.2 L652.2,252.7" stroke="#0c0c0c" stroke-width="1.7" fill="none" stroke-linecap="round"/><path d="M634.8,230.7 L647.2,227.7 L648.2,237.7 L635.8,240.7 Z" fill="#fff" stroke="#0c0c0c" stroke-width="1.7" stroke-linejoin="round"/><path d="M635.8,245.2 L648.2,242.2" stroke="#0c0c0c" stroke-width="3.6"/>
<path d="M636,243.2 L631,246.2 L632,256.2" stroke="#0c0c0c" stroke-width="2.6" fill="none" stroke-linecap="round" stroke-linejoin="round"/>
<ellipse cx="622" cy="218.2" rx="3.8" ry="5" fill="#0c0c0c" transform="rotate(15 622 218.2)"/>
<path d="M618.5,223 L625.5,223 L628,241 L616,244 Z" fill="#0c0c0c"/>
<path d="M621.2,249.5 L617.2,260.5 M621.2,249.5 L625.2,260.5 M633.8,246.5 L630.8,257.0 M633.8,246.5 L637.8,257.0" stroke="#0c0c0c" stroke-width="1.7" fill="none" stroke-linecap="round"/><path d="M620.2,235.0 L632.8,232.0 L633.8,242.0 L621.2,245.0 Z" fill="#fff" stroke="#0c0c0c" stroke-width="1.7" stroke-linejoin="round"/><path d="M621.2,249.5 L633.8,246.5" stroke="#0c0c0c" stroke-width="3.6"/>
<path d="M619,244 L610,249 L607,254" stroke="#0c0c0c" stroke-width="3.4" fill="none" stroke-linecap="round" stroke-linejoin="round"/>
<ellipse cx="606.6" cy="254" rx="4.8" ry="3" fill="#0c0c0c" transform="rotate(35 606.6 254)"/>
</g>
<g id="design">
<path d="M823.4,221 V228.6 M823.4,228.6 L816.6,232.4 M823.4,228.6 L830.2,231.6 M823.4,228.6 L821.6,226.6 M823.4,228.6 L825,233.4" stroke="#0c0c0c" stroke-width="1.4" fill="none" stroke-linecap="round"/>
<circle cx="816.2" cy="232.8" r="1.3" fill="#0c0c0c"/><circle cx="830.6" cy="232" r="1.3" fill="#0c0c0c"/><circle cx="825.2" cy="234" r="1.2" fill="#0c0c0c"/>
<path d="M822.4,204.6 Q822,202.4 824.6,202.2 L836,201.3 Q838.8,201.2 838.6,204 L837.8,210.6 Q837.4,212.8 835,212.9 L827,213.6 Q824.6,213.6 824,211.6 Z" fill="#fff" stroke="#0c0c0c" stroke-width="1.4" stroke-linejoin="round"/>
<ellipse cx="822.9" cy="218.4" rx="10.4" ry="3" fill="#fff" stroke="#0c0c0c" stroke-width="1.4" stroke-linejoin="round"/>
<path d="M831.1,209 V217.6" stroke="#0c0c0c" stroke-width="1.7"/><circle cx="831.1" cy="208.6" r="1.7" fill="#0c0c0c"/>
<path d="M769.6,197.4 L806.3,190.4 L811.8,208.8 L780.6,215.2 Z" fill="#fff" stroke="#0c0c0c" stroke-width="1.4" stroke-linejoin="round"/>
<path d="M780.6,215.2 L811.8,208.8 L811.8,211.6 L780.6,218.2 Z" fill="#fff" stroke="#0c0c0c" stroke-width="1.4" stroke-linejoin="round"/>
<path d="M806.5,194 L812.5,193.5 L822,203 L820,215 L806,217 L802,222 L802,209 L808,205 Z" fill="#0c0c0c"/>
<path d="M808,197 L800,204 L790,199" stroke="#0c0c0c" stroke-width="3" fill="none" stroke-linejoin="round" stroke-linecap="round"/>
<circle cx="808.7" cy="188.8" r="4.6" fill="#0c0c0c"/>
<path d="M800.8,170.2 L788.6,199" stroke="#0c0c0c" stroke-width="5.4" stroke-linecap="round"/>
<path d="M785.5,197.5 L792,200.5 L787.5,204 Z" fill="#0c0c0c"/>
<path d="M729.2,218.9 L769.6,208.8 L783.4,232.7 L749.4,241.8 Z" fill="#fff" stroke="#0c0c0c" stroke-width="1.4" stroke-linejoin="round"/>
<path d="M729.2,218.9 L749.4,241.8 L750.5,262.5 L745,262.5 L744.5,247.5 L736.5,240 L736.5,255.6 L732,255.6 Z" fill="#fff" stroke="#0c0c0c" stroke-width="1.4" stroke-linejoin="round"/>
<path d="M749.4,241.8 L783.4,232.7 L783.4,235.4 L749.6,244.8" fill="#fff" stroke="#0c0c0c" stroke-width="1.4" stroke-linejoin="round"/>
<path d="M774,212 L781,211 L796,224 L797,238 L788,243 L772,246 L768,256 L762,256 L764,240 L780,234 Z" fill="#0c0c0c"/>
<path d="M776,215 L764.5,230 L752,224" stroke="#0c0c0c" stroke-width="3.6" fill="none" stroke-linejoin="round" stroke-linecap="round"/>
<ellipse cx="771" cy="257.2" rx="10" ry="3.3" fill="#0c0c0c"/>
<circle cx="778.4" cy="206" r="5.1" fill="#0c0c0c"/>
<path d="M767.8,184 L752,221" stroke="#0c0c0c" stroke-width="6.4" stroke-linecap="round"/>
<path d="M747.5,219 L756,222.5 L749.5,228 Z" fill="#0c0c0c"/>
<path d="M797,246.4 V257 M797,257 L788.4,262.6 M797,257 L804.6,260.6 M797,257 L794,254.6 M797,257 L798.6,263" stroke="#0c0c0c" stroke-width="1.6" fill="none" stroke-linecap="round"/>
<circle cx="788" cy="263.2" r="1.6" fill="#0c0c0c"/><circle cx="805" cy="261" r="1.6" fill="#0c0c0c"/><circle cx="798.8" cy="263.8" r="1.4" fill="#0c0c0c"/>
<path d="M797.4,227.8 Q797,225.4 799.6,225.1 L811,223.6 Q814,223.4 813.8,226.4 L813,234 Q812.6,236.4 810,236.8 L802,238.8 Q799.6,239 799,236.8 Z" fill="#fff" stroke="#0c0c0c" stroke-width="1.4" stroke-linejoin="round"/>
<ellipse cx="795.3" cy="243" rx="12" ry="3.5" fill="#fff" stroke="#0c0c0c" stroke-width="1.4" stroke-linejoin="round"/>
<path d="M806.3,232 V242" stroke="#0c0c0c" stroke-width="1.9"/><circle cx="806.3" cy="231.6" r="1.9" fill="#0c0c0c"/>
</g>
<g id="layout">
<ellipse cx="147" cy="449.8" rx="17" ry="2.2" fill="#bdbdbd" filter="url(#blur1)"/>
<ellipse cx="151" cy="450" rx="5.5" ry="1.4" fill="#555" filter="url(#soft)"/>
<path d="M141.5,416 L153.2,418 L152.6,426.4 L141.8,426.4 Z" fill="#0c0c0c"/>
<path d="M134.4,395 L130,411 L139,417" stroke="#0c0c0c" stroke-width="4.6" fill="none" stroke-linecap="round" stroke-linejoin="round"/>
<ellipse cx="136.2" cy="391" rx="3.6" ry="4.2" fill="#0c0c0c" transform="rotate(-20 136.2 391)"/>
<ellipse cx="149.6" cy="407.3" rx="14.6" ry="14" fill="#0c0c0c" transform="rotate(-25 149.6 407.3)"/>
<ellipse cx="151.2" cy="405.9" rx="13.4" ry="12.8" fill="#fff" stroke="#0c0c0c" stroke-width="0.9" transform="rotate(-25 151.2 405.9)"/>
<ellipse cx="161.6" cy="399.4" rx="2.8" ry="2.2" fill="#0c0c0c" transform="rotate(40 161.6 399.4)"/>
<path d="M134.4,402 L137.2,405.4" stroke="#fff" stroke-width="0.9"/>
</g>
<g id="rnd">
<path d="M204.1,428.6 V431.20000000000005 A16.4,4.1 0 0 0 236.9,431.20000000000005 V428.6 Z" fill="#fff" stroke="#141414" stroke-width="1.4"/><ellipse cx="220.5" cy="428.6" rx="16.4" ry="4.1" fill="#fff" stroke="#141414" stroke-width="1.4"/><ellipse cx="220.5" cy="428.90000000000003" rx="10.168" ry="2.255" fill="#d9d9d9"/>
<path d="M222.7,401 Q222,415 224.5,425" stroke="#444" stroke-width="0.6" fill="none"/>
<path d="M232,397.5 Q236.5,394 242,396 L246,403 L245.8,426.4 L232.4,426.4 Z" fill="#0c0c0c"/>
<path d="M233.5,398.6 L222,399.6" stroke="#0c0c0c" stroke-width="2.8" stroke-linecap="round"/>
<path d="M243.5,398 L252.5,406" stroke="#0c0c0c" stroke-width="3.2" stroke-linecap="round"/>
<ellipse cx="236.4" cy="387.4" rx="3.9" ry="4.9" fill="#0c0c0c"/>
<ellipse cx="219.6" cy="391.5" rx="2.6" ry="3" fill="#0c0c0c"/>
<path d="M224.4,377.3 L226,378 Q222,402 212,420 L210.6,419.2 Q216,398 224.4,377.3 Z" fill="#c9c9c9" stroke="#3c3c3c" stroke-width="0.9"/>
<path d="M216,411.2 L221,406.6 L256,408.4 L251.8,414.8 Z" fill="#b4b0ac" stroke="#3c3c3c" stroke-width="0.9"/>
</g>
<g id="modeling">
<ellipse cx="322" cy="454" rx="9" ry="2.4" fill="#bdbdbd" filter="url(#blur1)"/>
<path d="M298.0,427.6 V430.6 A17.4,4.4 0 0 0 332.79999999999995,430.6 V427.6 Z" fill="#fff" stroke="#141414" stroke-width="1.4"/><ellipse cx="315.4" cy="427.6" rx="17.4" ry="4.4" fill="#fff" stroke="#141414" stroke-width="1.4"/><ellipse cx="315.4" cy="427.90000000000003" rx="10.787999999999998" ry="2.4200000000000004" fill="#d9d9d9"/>
<path d="M308.8,406 L295,415 Q292.6,418.5 296,420.4 L309,414 Z" fill="#fff" stroke="#0c0c0c" stroke-width="1.5" stroke-linejoin="round"/>
<path d="M305.2,398 Q305,392.4 307.4,392 V377.5 Q307.4,374 310.4,374 Q313.4,374 313.4,377.5 V392 H317.4 V377.5 Q317.4,374 320.5,374 Q323.6,374 323.6,377.5 V392 Q326,393 325.4,399 Q325,404 321,405 Q327,412 326,423.4 L305,423.4 Q303.6,412 308.8,405 Q305.4,403 305.2,398 Z" fill="#fff" stroke="#0c0c0c" stroke-width="1.5" stroke-linejoin="round"/>
<path d="M312.6,397.8 H316.6" stroke="#0c0c0c" stroke-width="1.2"/>
<path d="M336.4,411 Q341,407.5 346.4,410 L349.6,418 L350.5,436 L352.6,456 L346.6,457.4 L344.2,440 L338.5,457 L328.6,458 L333.8,452 L337.6,434 Z" fill="#0c0c0c"/>
<path d="M328.5,458.2 L338.5,457.4" stroke="#0c0c0c" stroke-width="2.6" stroke-linecap="round"/>
<path d="M346,457.6 L352.6,456.6" stroke="#0c0c0c" stroke-width="2.4" stroke-linecap="round"/>
<path d="M338,412.5 L326.5,407.4 L320.4,399.6" stroke="#0c0c0c" stroke-width="3" fill="none" stroke-linecap="round" stroke-linejoin="round"/>
<path d="M337,417 L329,422 L312,421.4" stroke="#0c0c0c" stroke-width="3" fill="none" stroke-linecap="round" stroke-linejoin="round"/>
<ellipse cx="313.6" cy="421.4" rx="6" ry="2.3" fill="#0c0c0c"/>
<ellipse cx="338.7" cy="402.2" rx="4.3" ry="5.1" fill="#0c0c0c" transform="rotate(-10 338.7 402.2)"/>
<path d="M346.6,411 L350.6,420" stroke="#fff" stroke-width="0.5"/>
</g>
<g id="texturing">
<ellipse cx="447" cy="462" rx="12" ry="2.6" fill="#bdbdbd" filter="url(#blur1)"/>
<path d="M395.40000000000003,430.2 V433.0 A16.4,4 0 0 0 428.2,433.0 V430.2 Z" fill="#fff" stroke="#141414" stroke-width="1.4"/><ellipse cx="411.8" cy="430.2" rx="16.4" ry="4" fill="#fff" stroke="#141414" stroke-width="1.4"/><ellipse cx="411.8" cy="430.5" rx="10.168" ry="2.2" fill="#d9d9d9"/>
<path d="M403.7,402.6 Q398.2,402.6 393.59999999999997,406.6 Q392.8,411.0 397.59999999999997,411.20000000000005 L403.7,410.20000000000005" fill="#f6b4c6" stroke="#633a34" stroke-width="1.1"/><path d="M418.7,402.6 Q424.2,402.6 428.8,406.6 Q429.59999999999997,411.0 424.8,411.20000000000005 L418.7,410.20000000000005" fill="#f6b4c6" stroke="#633a34" stroke-width="1.1"/><path d="M402.59999999999997,399.6 Q398.8,412.6 400.2,425.6 Q400.8,429.0 406.59999999999997,428.40000000000003 L409.59999999999997,423.0 L412.8,423.0 L415.8,428.40000000000003 Q421.59999999999997,429.0 422.2,425.6 Q423.59999999999997,412.6 419.8,399.6 Z" fill="#f6b4c6" stroke="#633a34" stroke-width="1.1"/><ellipse cx="411.2" cy="412.40000000000003" rx="6.8" ry="9.2" fill="#fff"/><circle cx="411.2" cy="417.20000000000005" r="0.7" fill="#633a34"/><ellipse cx="403.9" cy="380.1" rx="3.5" ry="9.5" fill="#fff4f2" stroke="#633a34" stroke-width="1.1" transform="rotate(-9 403.9 388.6)"/><ellipse cx="403.9" cy="381.1" rx="1.4" ry="6.4" fill="#4e2f26" transform="rotate(-9 403.9 388.6)"/><ellipse cx="418.5" cy="380.1" rx="3.5" ry="9.5" fill="#fff4f2" stroke="#633a34" stroke-width="1.1" transform="rotate(9 418.5 388.6)"/><ellipse cx="418.5" cy="381.1" rx="1.4" ry="6.4" fill="#4e2f26" transform="rotate(9 418.5 388.6)"/><ellipse cx="411.2" cy="393.6" rx="10.6" ry="8.2" fill="#fff4f2" stroke="#633a34" stroke-width="1.1"/><circle cx="407.4" cy="392.20000000000005" r="1.05" fill="#3a2420"/><circle cx="415.0" cy="392.20000000000005" r="1.05" fill="#3a2420"/><path d="M407.2,395.40000000000003 Q411.2,400.0 415.2,395.40000000000003 Q411.2,397.20000000000005 407.2,395.40000000000003 Z" fill="#7a2a2a" stroke="#5a2a2a" stroke-width="0.5"/>
<path d="M424,410.6 L431,412 L434,415.6 L427,416.6 Z" fill="#b98c7a" stroke="#5a3a2e" stroke-width="0.6"/>
<path d="M432,413.6 L491.6,441.6" stroke="#5e3b2c" stroke-width="2.4" stroke-linecap="round"/>
<path d="M456,424 L488,439" stroke="#8a6656" stroke-width="0.8"/>
<path d="M447,414.5 Q452,410.5 458,412.5 L462,420 L459,436 L463,458.5 L456,460 L451.6,442 L447.5,461.5 L437.8,463 L442.6,457 L444,436 L443,424 Z" fill="#0c0c0c"/>
<path d="M437.6,463.2 L447.6,462.4" stroke="#0c0c0c" stroke-width="2.6" stroke-linecap="round"/>
<path d="M455,460.6 L462.6,459.4" stroke="#0c0c0c" stroke-width="2.4" stroke-linecap="round"/>
<path d="M449,415.6 L439.6,420.6" stroke="#0c0c0c" stroke-width="3.2" stroke-linecap="round"/>
<path d="M458.6,415 L466,424.6" stroke="#0c0c0c" stroke-width="3.2" stroke-linecap="round"/>
<ellipse cx="457.9" cy="405.2" rx="4.3" ry="5.3" fill="#0c0c0c" transform="rotate(15 457.9 405.2)"/>
<path d="M447,420 L470,431" stroke="#5e3b2c" stroke-width="2" stroke-linecap="round"/>
</g>
<g id="rigging">
<ellipse cx="520" cy="450" rx="12" ry="2" fill="#c4c4c4" filter="url(#blur1)"/>
<ellipse cx="514" cy="448.4" rx="2.8" ry="1.3" fill="#0c0c0c"/><ellipse cx="529" cy="451" rx="2.6" ry="2.4" fill="#0c0c0c"/>
<path d="M489.40000000000003,429.6 V432.40000000000003 A16.4,4 0 0 0 522.2,432.40000000000003 V429.6 Z" fill="#fff" stroke="#141414" stroke-width="1.4"/><ellipse cx="505.8" cy="429.6" rx="16.4" ry="4" fill="#fff" stroke="#141414" stroke-width="1.4"/><ellipse cx="505.8" cy="429.90000000000003" rx="10.168" ry="2.2" fill="#d9d9d9"/>
<path d="M497.5,402.8 Q492,402.8 487.4,406.8 Q486.6,411.2 491.4,411.40000000000003 L497.5,410.40000000000003" fill="#f6b4c6" stroke="#633a34" stroke-width="1.1"/><path d="M512.5,402.8 Q518,402.8 522.6,406.8 Q523.4,411.2 518.6,411.40000000000003 L512.5,410.40000000000003" fill="#f6b4c6" stroke="#633a34" stroke-width="1.1"/><path d="M496.4,399.8 Q492.6,412.8 494,425.8 Q494.6,429.2 500.4,428.6 L503.4,423.2 L506.6,423.2 L509.6,428.6 Q515.4,429.2 516,425.8 Q517.4,412.8 513.6,399.8 Z" fill="#f6b4c6" stroke="#633a34" stroke-width="1.1"/><ellipse cx="505" cy="412.6" rx="6.8" ry="9.2" fill="#fff"/><circle cx="505" cy="417.40000000000003" r="0.7" fill="#633a34"/><ellipse cx="497.7" cy="380.3" rx="3.5" ry="9.5" fill="#f6b4c6" stroke="#633a34" stroke-width="1.1" transform="rotate(-9 497.7 388.8)"/><ellipse cx="512.3" cy="380.3" rx="3.5" ry="9.5" fill="#f6b4c6" stroke="#633a34" stroke-width="1.1" transform="rotate(9 512.3 388.8)"/><ellipse cx="505" cy="393.8" rx="10.6" ry="8.2" fill="#f6b4c6" stroke="#633a34" stroke-width="1.1"/><circle cx="501.2" cy="392.40000000000003" r="1.05" fill="#3a2420"/><circle cx="508.8" cy="392.40000000000003" r="1.05" fill="#3a2420"/><path d="M501,395.6 Q505,400.2 509,395.6 Q505,397.40000000000003 501,395.6 Z" fill="#7a2a2a" stroke="#5a2a2a" stroke-width="0.5"/>
<g stroke="#777" stroke-width="0.6"><path d="M487,362 V404 M493,364 V400 M499,364 V378 M511,364 V374 M517,364 V402 M523,362 V404 M505,364 V372"/></g>
<ellipse cx="503" cy="364.4" rx="22" ry="2.4" fill="#d4d4d4" stroke="#777" stroke-width="0.7"/>
<ellipse cx="504" cy="360.4" rx="22.4" ry="2.7" fill="#8c8c8c" stroke="#444" stroke-width="0.9"/>
<ellipse cx="504" cy="360.2" rx="17" ry="1.2" fill="#d8d8d8"/>
<path d="M481,362.5 H497" stroke="#555" stroke-width="1.6"/>
<path d="M519.6,360 L523.4,360 L528.5,384 L529.4,426.4 L520.6,426.4 L524,398 Z" fill="#0c0c0c"/>
<path d="M526,392 L522,426 M527.6,392 L529,426" stroke="#0c0c0c" stroke-width="2.6"/>
<path d="M482,370.6 L523.4,386.4" stroke="#0c0c0c" stroke-width="4" stroke-linecap="round"/>
<path d="M482,367 L486,373.6 M484.6,365.6 L489.6,372.4" stroke="#0c0c0c" stroke-width="1.4" stroke-linecap="round"/>
<path d="M491,372 L494,366.6 L498,368 L499.6,373.6" fill="#0c0c0c"/>
<ellipse cx="530.6" cy="383.6" rx="4.4" ry="5.4" fill="#0c0c0c" transform="rotate(20 530.6 383.6)"/>
</g>
<g id="animation">
<ellipse cx="622" cy="473" rx="22" ry="3.4" fill="#c9c9c9" filter="url(#blur1)"/>
<path d="M581,358.6 Q586,355.6 590.4,358.4 L590,375 L574.6,377.4 Z" fill="#0c0c0c"/>
<ellipse cx="586.2" cy="352.4" rx="4" ry="4.8" fill="#0c0c0c" transform="rotate(15 586.2 352.4)"/>
<path d="M560.6,377.8 L564.5,376.6 L564.5,477 L560.6,475.8 Z" fill="#e6e6e6" stroke="#666" stroke-width="0.7"/>
<path d="M564.5,376.6 L653.6,366.2 L653.8,456 L564.5,477 Z" fill="url(#panelg)"/>
<path d="M564.5,376.6 L653.6,366.2 L653.8,456 L564.5,477 Z" fill="url(#pdl)"/>
<path d="M564.5,376.6 L653.6,366.2 L653.8,456 L564.5,477 Z" fill="url(#pdr)" stroke="#555" stroke-width="0.9"/>
<ellipse cx="603" cy="459" rx="11" ry="13" fill="#8a8a8a" opacity="0.55" filter="url(#blur1)"/>
<g stroke="#6a6a6a" stroke-width="0.75" fill="none">
<path d="M600,382 C586,388 582,398 590,408 S604,420 592,432 S586,452 596,466"/>
<path d="M606,383 C612,392 604,402 596,409 S586,424 598,434"/>
<path d="M620,380 C616,390 618,398 623,406 S634,418 628,430"/>
<path d="M626,378 C636,386 642,396 645,410 S650,436 636,450"/>
<path d="M629,378 C642,392 650,404 648,420 S640,440 645,452"/>
<path d="M612,381 C608,394 612,404 616,412"/>
</g>
<path d="M588,360.4 L616,367.4 M587,364 L612,371.6" stroke="#0c0c0c" stroke-width="2.8" stroke-linecap="round"/>
<path d="M597,377.6 L624.6,356 L630.6,358.6 L603.6,381.4 Z" fill="#b9b6b2" stroke="#4a4a4a" stroke-width="0.8"/>
<path d="M601.6,362.6 L606,366.6 L634.6,372.4 L632,367 Z" fill="#c9c6c2" stroke="#4a4a4a" stroke-width="0.8"/>
<path d="M611,366 L618,370" stroke="#0c0c0c" stroke-width="3.2" stroke-linecap="round"/>
<path d="M593.8,431.2 L604,444" stroke="#5e2c30" stroke-width="9.4" stroke-linecap="round" fill="none"/><path d="M613.4,426 L623.6,411.6" stroke="#5e2c30" stroke-width="9.2" stroke-linecap="round" fill="none"/><path d="M620,430.6 L636.2,421.6" stroke="#5e2c30" stroke-width="9.2" stroke-linecap="round" fill="none"/><path d="M620,441.6 L630.4,436.4" stroke="#5e2c30" stroke-width="9.0" stroke-linecap="round" fill="none"/><path d="M620,459.6 L633.6,458" stroke="#5e2c30" stroke-width="9.2" stroke-linecap="round" fill="none"/><path d="M612,466 L620.4,470.4" stroke="#5e2c30" stroke-width="9.6" stroke-linecap="round" fill="none"/><ellipse cx="612.2" cy="434.6" rx="10.2" ry="9.799999999999999" fill="#5e2c30"/><ellipse cx="611.6" cy="453.4" rx="9.6" ry="14.2" fill="#5e2c30" transform="rotate(-12 611.6 453.4)"/>
<path d="M593.8,431.2 L604,444" stroke="#f6b4c6" stroke-width="7" stroke-linecap="round" fill="none"/><path d="M613.4,426 L623.6,411.6" stroke="#f6b4c6" stroke-width="6.8" stroke-linecap="round" fill="none"/><path d="M620,430.6 L636.2,421.6" stroke="#f6b4c6" stroke-width="6.8" stroke-linecap="round" fill="none"/><path d="M620,441.6 L630.4,436.4" stroke="#f6b4c6" stroke-width="6.6" stroke-linecap="round" fill="none"/><path d="M620,459.6 L633.6,458" stroke="#f6b4c6" stroke-width="6.8" stroke-linecap="round" fill="none"/><path d="M612,466 L620.4,470.4" stroke="#f6b4c6" stroke-width="7.2" stroke-linecap="round" fill="none"/><ellipse cx="612.2" cy="434.6" rx="9.0" ry="8.6" fill="#f6b4c6"/><ellipse cx="611.6" cy="453.4" rx="8.4" ry="13.0" fill="#f6b4c6" transform="rotate(-12 611.6 453.4)"/>
<ellipse cx="612.6" cy="454.8" rx="5.8" ry="9.4" fill="#fff" transform="rotate(-10 612.6 454.8)"/>
<circle cx="614.4" cy="460.6" r="0.7" fill="#3a2a2a"/>
<path d="M607,431.6 Q606.4,440.6 612.6,442 Q615,436.6 613.4,431 Q610,429.4 607,431.6 Z" fill="#8f8080" stroke="#5e2c30" stroke-width="0.8"/>
<path d="M613.6,428.6 Q615,427.4 616.6,428.6 M616.6,432 Q618,431 619.4,432.4" stroke="#5e2c30" stroke-width="0.7" fill="none"/>
<path d="M615,422 L621.6,414 M623,428.6 L633,424" stroke="#e58fa8" stroke-width="0.9" fill="none" stroke-linecap="round"/>
</g>
<g id="vfx">
<path d="M666.4,428.2 V430.8 A17,4 0 0 0 700.4,430.8 V428.2 Z" fill="#fff" stroke="#141414" stroke-width="1.4"/><ellipse cx="683.4" cy="428.2" rx="17" ry="4" fill="#fff" stroke="#141414" stroke-width="1.4"/><ellipse cx="683.4" cy="428.5" rx="10.54" ry="2.2" fill="#d9d9d9"/>
<path d="M665.8,395 L667,401" stroke="#5e2c30" stroke-width="10.2" stroke-linecap="round" fill="none"/><path d="M691,394 L692,401" stroke="#5e2c30" stroke-width="9.2" stroke-linecap="round" fill="none"/><path d="M677,416 L674.4,423" stroke="#5e2c30" stroke-width="10.2" stroke-linecap="round" fill="none"/><path d="M672.6,424.8 L679.4,425.2" stroke="#5e2c30" stroke-width="7.6000000000000005" stroke-linecap="round" fill="none"/><path d="M690,413 L699,414.8" stroke="#5e2c30" stroke-width="10.600000000000001" stroke-linecap="round" fill="none"/><ellipse cx="680" cy="405" rx="12.7" ry="13.5" fill="#5e2c30"/>
<path d="M665.8,395 L667,401" stroke="#f6b4c6" stroke-width="8" stroke-linecap="round" fill="none"/><path d="M691,394 L692,401" stroke="#f6b4c6" stroke-width="7" stroke-linecap="round" fill="none"/><path d="M677,416 L674.4,423" stroke="#f6b4c6" stroke-width="8" stroke-linecap="round" fill="none"/><path d="M672.6,424.8 L679.4,425.2" stroke="#f6b4c6" stroke-width="5.4" stroke-linecap="round" fill="none"/><path d="M690,413 L699,414.8" stroke="#f6b4c6" stroke-width="8.4" stroke-linecap="round" fill="none"/><ellipse cx="680" cy="405" rx="11.6" ry="12.4" fill="#f6b4c6"/>
<ellipse cx="682.4" cy="409.4" rx="7.2" ry="8.6" fill="#fff" transform="rotate(-8 682.4 409.4)"/>
<circle cx="684.6" cy="415.4" r="0.7" fill="#3a2a2a"/>
<path d="M668.6,399 Q664.6,390 670.4,381 Q671.6,387 674.6,388 Q671,374 679,361.6 Q680,372 683.6,377 Q683.6,367 687,361 Q688.6,372 691.6,379 Q692.6,374 694.6,371 Q698.6,386 695.6,398 Q684,405 668.6,399 Z" fill="#f6921e"/>
<path d="M672.6,398 Q669,390.6 673.6,385 Q675,390 677.6,390 Q675,379 680.6,370 Q681.6,379 685,383 Q685.6,376 688,372 Q689.6,381 692,386 Q694.6,392 692,397.6 Q683,402 672.6,398 Z" fill="#fbb03b"/>
<path d="M676.6,397.6 Q674,392 677.6,388 Q679.6,392 681,388 Q680.6,381 683.6,377 Q684.6,384 687.6,389 Q689.6,394 687,397.6 Q682,400 676.6,397.6 Z" fill="#fff36a"/>
</g>
<g id="lighting">
<ellipse cx="737" cy="452.6" rx="19" ry="3" fill="#b9b9b9" filter="url(#blur1)"/>
<path d="M729.2,398 V444.6 M729.2,441 L716.4,450.4 M729.2,441 L737,447" stroke="#0c0c0c" stroke-width="1.6" fill="none" stroke-linecap="round"/>
<path d="M719.8,385 Q719.2,382.8 722,382.4 L738.6,380 Q742,379.8 742.2,383 L742.6,392.8 Q742.6,395.6 739.6,396 L724.4,398.4 Q721.6,398.6 721,396 Z" fill="#0c0c0c"/>
<ellipse cx="723.4" cy="390.6" rx="2.5" ry="5.8" fill="#fff" transform="rotate(-6 723.4 390.6)"/>
<path d="M711,378.4 L713.6,376.4 L720.4,382 L717.6,384 Z M709.8,390.4 L716.6,389.4 L717.8,395.6 L711.4,397.4 Z M716.8,403.6 L722.4,399.8 L724.6,402 L719.6,406.4 Z" fill="#0c0c0c"/>
<path d="M735.4,410.6 Q740,407.6 745,410 L746.8,420 L745.6,432 L748,449 L752.4,453 L744.6,453.4 L741.4,434 L738.4,449.6 L728.4,452.6 L734.2,447 L736,432 Z" fill="#0c0c0c"/>
<path d="M736,412 L729.6,415.6" stroke="#0c0c0c" stroke-width="2.8" stroke-linecap="round"/>
<path d="M746,412 L750.4,430.6" stroke="#0c0c0c" stroke-width="2.6" stroke-linecap="round"/>
<path d="M750.4,430.6 L748.6,434.6" stroke="#0c0c0c" stroke-width="1.6" stroke-linecap="round"/>
<ellipse cx="739.8" cy="402.4" rx="4.2" ry="5.4" fill="#0c0c0c"/>
<circle cx="729.2" cy="414.6" r="2" fill="#0c0c0c"/>
</g>
<g id="rendering">
<ellipse cx="790" cy="458.6" rx="27" ry="4.6" fill="#aeaeae" filter="url(#blur1)"/>
<path d="M778,420 V451 M778,450 L764.6,460 M778,450 L787,458.6 M778,450 L780,456" stroke="#0c0c0c" stroke-width="1.5" fill="none" stroke-linecap="round"/>
<path d="M757,412.6 L771,414 L772,412.4 L782.6,412.4 L783.4,421.6 L771.6,422 L770.6,419.6 L757,419 Z" fill="#0c0c0c"/>
<circle cx="779.7" cy="409" r="3.7" fill="#0c0c0c"/>
<path d="M774,422 L777,425 L782,423" fill="#0c0c0c"/>
<path d="M786.6,426.6 Q792,424 798,428 Q808,432 811.4,438 Q812.6,444 806,447.6 L811.8,455.6 L796,456.4 L801,449 L790,449.6 L793.4,459 L795,461.6 L780,462.4 L784.6,458 L783.6,446.4 L796,440 L787,434.6 Z" fill="#0c0c0c"/>
<path d="M788,429 L776.6,432.6 L768.4,424.6" stroke="#0c0c0c" stroke-width="2.8" fill="none" stroke-linecap="round" stroke-linejoin="round"/>
<path d="M788.6,433 L781.6,436" stroke="#0c0c0c" stroke-width="2.4" stroke-linecap="round"/>
<ellipse cx="788.6" cy="419.6" rx="4.4" ry="5.3" fill="#0c0c0c" transform="rotate(15 788.6 419.6)"/>
</g>
<g id="compositing">
<polygon points="145.2,590.9 172,594.5 169.4,614 141.6,611.2" fill="#fff" stroke="#0c0c0c" stroke-width="1.4" stroke-linejoin="round" />
<g fill="#f6a9c2" stroke="#a84a6a" stroke-width="0.7"><path d="M148,602 Q152,606 156,606 L160,612 L165,612 L162,606 Q166,604 166,600 Q162,601 160,603 Q161,598 158,595.6 Q155,598 156,602 Q153,599 148,602 Z"/><path d="M146.6,600 L151,604 M163,598 L167,602"/></g>
<polygon points="174.2,589.9 206,589.4 209.4,611.6 175.7,610.7" fill="#f9c6a6" stroke="#2a2a2a" stroke-width="1.5" stroke-linejoin="round" />
<ellipse cx="197" cy="594.6" rx="2" ry="2.6" fill="#fde6d6"/>
<defs><clipPath id="cmr"><polygon points="209,594.5 232.2,591.3 241.6,619.1 217,618"/></clipPath></defs>
<polygon points="209,594.5 232.2,591.3 241.6,619.1 217,618" fill="#fff" stroke="#0c0c0c" stroke-width="1.4" stroke-linejoin="round" />
<g clip-path="url(#cmr)"><path d="M212,612 Q222,609 230,611 L242,611 L244,622 L214,620 Z" fill="#7d8b35"/><ellipse cx="232" cy="606" rx="2.2" ry="3" fill="#3fa046"/><rect x="228" y="606.6" width="1.4" height="3" fill="#8aa860"/></g>
<polygon points="209,594.5 232.2,591.3 241.6,619.1 217,618" fill="none" stroke="#0c0c0c" stroke-width="1.4" stroke-linejoin="round" />
<path d="M170,646.8 V654.8 M170,654.8 L159,660.4 M170,654.8 L180,658.4 M170,654.8 L167,651.8 M170,654.8 L173,661.4" stroke="#0c0c0c" stroke-width="2.3" fill="none" stroke-linecap="round"/><circle cx="159" cy="660.8" r="1.8" fill="#0c0c0c"/><circle cx="180.4" cy="658.8" r="1.8" fill="#0c0c0c"/><circle cx="173.4" cy="661.8" r="1.8" fill="#0c0c0c"/><path d="M151,627.8 Q151,624.8 155,624.8 L163,625.4 Q168.6,627.8 168.4,634.8 Q167,640.8 160,640.8 Q153,638.8 151,627.8 Z" fill="#fff" stroke="#0c0c0c" stroke-width="1.8" stroke-linejoin="round"/><path d="M162,645.1999999999999 L179,643.8 L177.4,650.4 L172,652.4 L165,651.4 Z" fill="#0c0c0c"/><path d="M155,642.1999999999999 Q166,638.8 178.6,640.4 Q179.6,644.1999999999999 168,645.8 Q157,646.4 155,642.1999999999999 Z" fill="#fff" stroke="#0c0c0c" stroke-width="1.8" stroke-linejoin="round"/><path d="M158.6,631.8 V641.8" stroke="#0c0c0c" stroke-width="2.6"/><path d="M156.4,631.1999999999999 H161.8" stroke="#0c0c0c" stroke-width="3" stroke-linecap="round"/>
<path d="M185.8,627 L238.2,630.4 L238.4,652.6 L235,652.6 L233.4,637.6 L217,643.6 L183,638 Z" fill="#0c0c0c"/>
<path d="M185.8,626.8 L238,630.4 L216.6,638 L181,634.2 Z" fill="#fff" stroke="#0c0c0c" stroke-width="1"/>
<path d="M236.8,652 L217.4,657.6" stroke="#0c0c0c" stroke-width="2"/>
<path d="M180.6,616 Q186,614 189.6,618 L185,632 L193.6,640 L190.4,655 L184,655 L185.6,643 L171,643.6 L170,636 Z" fill="#0c0c0c"/>
<ellipse cx="190" cy="656" rx="8.6" ry="2.6" fill="#0c0c0c"/>
<path d="M181,618.6 L156.4,614.4" stroke="#0c0c0c" stroke-width="3" stroke-linecap="round"/>
<path d="M188,620.6 L223,620" stroke="#0c0c0c" stroke-width="3" stroke-linecap="round"/>
<ellipse cx="184.3" cy="611" rx="5" ry="5.5" fill="#0c0c0c"/>
</g>
<g id="vfx2d">
<defs><clipPath id="vmon"><polygon points="321.2,591.8 379.8,592.3 373.5,630.6 317.4,623"/></clipPath></defs>
<polygon points="321.2,591.8 379.8,592.3 373.5,630.6 317.4,623" fill="#f7cfa6" stroke="#2a2a2a" stroke-width="1.6" stroke-linejoin="round" />
<g clip-path="url(#vmon)">
<path d="M340,626 Q352,616 372,620 L380,622 L376,634 L340,630 Z" fill="#8fae4a"/>
<ellipse cx="354" cy="599" rx="9" ry="3.8" fill="#f6a9c2" stroke="#c0608a" stroke-width="0.7" transform="rotate(-8 354 599)"/>
<path d="M322,600 Q330,592 342,594 Q336,602 326,606 Z" fill="#f6a9c2" stroke="#c0608a" stroke-width="0.7"/>
<ellipse cx="350" cy="611" rx="4" ry="5" fill="#f6a9c2" stroke="#c0608a" stroke-width="0.6"/>
<path d="M324,626 Q326,612 336,612 Q342,616 342,628 Z" fill="#fbe8d0"/>
<ellipse cx="364" cy="615.6" rx="4.6" ry="3.6" fill="#8fa0a6"/><rect x="363.4" y="618" width="1.2" height="4" fill="#8fa0a6"/>
</g>
<polygon points="321.2,591.8 379.8,592.3 373.5,630.6 317.4,623" fill="none" stroke="#2a2a2a" stroke-width="1.6" stroke-linejoin="round" />
<polygon points="289,595.4 342,597 358.6,633.4 295.3,625.2" fill="#e4e8a8" fill-opacity="0.5" stroke="#a9ad7a" stroke-width="0.8"/>
<path d="M314.4,646.2 V654.2 M314.4,654.2 L303.4,659.8000000000001 M314.4,654.2 L324.4,657.8000000000001 M314.4,654.2 L311.4,651.2 M314.4,654.2 L317.4,660.8000000000001" stroke="#0c0c0c" stroke-width="2.3" fill="none" stroke-linecap="round"/><circle cx="303.4" cy="660.2" r="1.8" fill="#0c0c0c"/><circle cx="324.79999999999995" cy="658.2" r="1.8" fill="#0c0c0c"/><circle cx="317.79999999999995" cy="661.2" r="1.8" fill="#0c0c0c"/><path d="M295.4,627.2 Q295.4,624.2 299.4,624.2 L307.4,624.8000000000001 Q313.0,627.2 312.79999999999995,634.2 Q311.4,640.2 304.4,640.2 Q297.4,638.2 295.4,627.2 Z" fill="#fff" stroke="#0c0c0c" stroke-width="1.8" stroke-linejoin="round"/><path d="M306.4,644.6 L323.4,643.2 L321.79999999999995,649.8000000000001 L316.4,651.8000000000001 L309.4,650.8000000000001 Z" fill="#0c0c0c"/><path d="M299.4,641.6 Q310.4,638.2 323.0,639.8000000000001 Q324.0,643.6 312.4,645.2 Q301.4,645.8000000000001 299.4,641.6 Z" fill="#fff" stroke="#0c0c0c" stroke-width="1.8" stroke-linejoin="round"/><path d="M303.0,631.2 V641.2" stroke="#0c0c0c" stroke-width="2.6"/><path d="M300.79999999999995,630.6 H306.2" stroke="#0c0c0c" stroke-width="3" stroke-linecap="round"/>
<path d="M318.8,629.6 L383.2,631.4 L383.4,652.6 L380,652.6 L378.6,638 L362.4,644.6 L322,638.6 Z" fill="#0c0c0c"/>
<path d="M318.8,629.6 L383,631.4 L362.2,638.8 L324.3,634.3 Z" fill="#fff" stroke="#0c0c0c" stroke-width="1"/>
<path d="M382,652 L364,657.8" stroke="#0c0c0c" stroke-width="2"/>
<path d="M300,613 Q305,611 309.6,614 L322,633 L337.6,641 L332.6,655 L326.6,655 L329,645 L316,645 L312,638 Z" fill="#0c0c0c"/>
<path d="M309,615 L349,607.4" stroke="#0c0c0c" stroke-width="4.4" stroke-linecap="round"/>
<path d="M347,605 L351.6,603.6 M349.6,607.6 L353.6,607.6 M348,609.6 L352,610.6" stroke="#0c0c0c" stroke-width="1.2" stroke-linecap="round"/>
<path d="M301.6,614 L293,608.6" stroke="#0c0c0c" stroke-width="2.6" stroke-linecap="round"/>
<ellipse cx="304" cy="607" rx="5" ry="5.6" fill="#0c0c0c"/>
<polygon points="301.7,689.4 346,677 379.4,688.5 342.4,707.8" fill="#f9e2e8" stroke="#e3bfca" stroke-width="0.8"/>
<polygon points="304.4,666.8 353.6,649.6 376.7,674.1 322.5,691.2" fill="#cfcbe4" fill-opacity="0.88" stroke="#8d8aa0" stroke-width="0.8"/>
<circle cx="328" cy="667.7" r="4.4" fill="#8a889a" opacity="0.55"/>
<text x="0" y="0" font-family="Liberation Serif" font-style="italic" font-weight="normal" font-size="8" fill="#222" textLength="52" lengthAdjust="spacingAndGlyphs" transform="translate(321.4,686.6) rotate(-16.5)">Bunny Rabbit Whoo</text>
</g>
<g id="cc">
<defs><clipPath id="ccl"><polygon points="468.5,584.3 523.7,583.7 531.8,620.5 478.3,617.4"/></clipPath></defs><polygon points="468.5,584.3 523.7,583.7 531.8,620.5 478.3,617.4" fill="#f8c9b0"/><g clip-path="url(#ccl)"><path d="M492.5,616 Q508.5,608 540.5,614 L544.5,630 L488.5,628 Z" fill="#8c9440"/><ellipse cx="514.5" cy="606.6" rx="4.4" ry="3.6" fill="#8d8d80"/><rect x="513.9" y="608" width="1.2" height="5" fill="#8d8d80"/><ellipse cx="520.5" cy="590" rx="5" ry="4" fill="#fff" opacity="0.7"/><g fill="#f6a9c2" stroke="#6a2a3a" stroke-width="0.9" stroke-linejoin="round"><path d="M482.5,600 Q486.5,588 494.5,584 Q498.5,586 494.5,592 L490.5,602 Z"/><path d="M492.5,598 Q502.5,588 510.5,588 Q513.5,591 508.5,595 Q500.5,600 495.5,603 Z"/><path d="M498.5,606 Q506.5,600 508.5,604 Q506.5,610 498.5,614 Z"/><path d="M476.5,608 Q474.5,598 482.5,598 Q494.5,598 498.5,606 Q500.5,620 496.5,630 L476.5,628 Q474.5,616 476.5,608 Z"/><path d="M470.5,590 Q474.5,596 478.5,606 L474.5,612 Q470.5,600 466.5,594 Z"/></g><path d="M480.5,603 Q482.5,612 488.5,612 Q490.5,606 486.5,601 Z" fill="#9a8585" stroke="#6a2a3a" stroke-width="0.8"/><ellipse cx="489.5" cy="618" rx="5.4" ry="6.6" fill="#fff"/></g><polygon points="468.5,584.3 523.7,583.7 531.8,620.5 478.3,617.4" fill="none" stroke="#1a1a1a" stroke-width="1.6" stroke-linejoin="round"/>
<defs><clipPath id="ccr"><polygon points="528.9,583.7 589,582.7 596.5,624.4 536.5,621.3"/></clipPath></defs><polygon points="528.9,583.7 589,582.7 596.5,624.4 536.5,621.3" fill="#f6f0a6"/><g clip-path="url(#ccr)"><path d="M552.9,616 Q568.9,608 600.9,614 L604.9,630 L548.9,628 Z" fill="#76c043"/><ellipse cx="578.9" cy="606.6" rx="4.4" ry="3.6" fill="#8a9670"/><rect x="578.3" y="608" width="1.2" height="5" fill="#8a9670"/><ellipse cx="584.9" cy="590" rx="5" ry="4" fill="#fff" opacity="0.7"/><g fill="#f6a9c2" stroke="#6a2a3a" stroke-width="0.9" stroke-linejoin="round"><path d="M542.9,600 Q546.9,588 554.9,584 Q558.9,586 554.9,592 L550.9,602 Z"/><path d="M552.9,598 Q562.9,588 570.9,588 Q573.9,591 568.9,595 Q560.9,600 555.9,603 Z"/><path d="M558.9,606 Q566.9,600 568.9,604 Q566.9,610 558.9,614 Z"/><path d="M536.9,608 Q534.9,598 542.9,598 Q554.9,598 558.9,606 Q560.9,620 556.9,630 L536.9,628 Q534.9,616 536.9,608 Z"/><path d="M530.9,590 Q534.9,596 538.9,606 L534.9,612 Q530.9,600 526.9,594 Z"/></g><path d="M540.9,603 Q542.9,612 548.9,612 Q550.9,606 546.9,601 Z" fill="#9a8585" stroke="#6a2a3a" stroke-width="0.8"/><ellipse cx="549.9" cy="618" rx="5.4" ry="6.6" fill="#fff"/></g><polygon points="528.9,583.7 589,582.7 596.5,624.4 536.5,621.3" fill="none" stroke="#1a1a1a" stroke-width="1.6" stroke-linejoin="round"/>
<path d="M494,645.4 V653.4 M494,653.4 L483,659.0 M494,653.4 L504,657.0 M494,653.4 L491,650.4 M494,653.4 L497,660.0" stroke="#0c0c0c" stroke-width="2.3" fill="none" stroke-linecap="round"/><circle cx="483" cy="659.4" r="1.8" fill="#0c0c0c"/><circle cx="504.4" cy="657.4" r="1.8" fill="#0c0c0c"/><circle cx="497.4" cy="660.4" r="1.8" fill="#0c0c0c"/><path d="M475,626.4 Q475,623.4 479,623.4 L487,624.0 Q492.6,626.4 492.4,633.4 Q491,639.4 484,639.4 Q477,637.4 475,626.4 Z" fill="#fff" stroke="#0c0c0c" stroke-width="1.8" stroke-linejoin="round"/><path d="M486,643.8 L503,642.4 L501.4,649.0 L496,651.0 L489,650.0 Z" fill="#0c0c0c"/><path d="M479,640.8 Q490,637.4 502.6,639.0 Q503.6,642.8 492,644.4 Q481,645.0 479,640.8 Z" fill="#fff" stroke="#0c0c0c" stroke-width="1.8" stroke-linejoin="round"/><path d="M482.6,630.4 V640.4" stroke="#0c0c0c" stroke-width="2.6"/><path d="M480.4,629.8 H485.8" stroke="#0c0c0c" stroke-width="3" stroke-linecap="round"/>
<path d="M506.6,629.6 L562.8,629.8 L563,651.8 L559.6,651.8 L558.4,637 L544,643.6 L508,638.6 Z" fill="#0c0c0c"/>
<path d="M506.6,629.6 L562.6,629.8 L543.9,637.4 L503,634.6 Z" fill="#fff" stroke="#0c0c0c" stroke-width="1"/>
<path d="M561.4,651.4 L541,657" stroke="#0c0c0c" stroke-width="2"/>
<path d="M513,626 L537.6,624.4 L538.4,628.6 L514,630.4 Z" fill="#0c0c0c"/>
<path d="M517,626.6 L535,625.4" stroke="#fff" stroke-width="0.8" stroke-dasharray="1.4 1"/>
<path d="M498,618.6 Q506,614.6 512.6,618.6 L520,629 L513,631 L512,638 L517.6,641.6 L514.4,655 L508,655 L509.6,645 L496,645 L493,636 Q492.6,624 498,618.6 Z" fill="#0c0c0c"/>
<ellipse cx="513.6" cy="655.8" rx="8.6" ry="2.7" fill="#0c0c0c"/>
<path d="M510,621 L524.6,629.6" stroke="#0c0c0c" stroke-width="3" stroke-linecap="round"/>
<ellipse cx="507.9" cy="610.7" rx="5" ry="5.7" fill="#0c0c0c"/>
</g>
<g id="final">
<defs><clipPath id="fo"><rect x="641" y="576.5" width="135" height="67"/></clipPath></defs>
<rect x="641" y="576.5" width="135" height="67" fill="#f9f0b2"/>
<g clip-path="url(#fo)">
<circle cx="741.8" cy="589" r="9.4" fill="#fff" opacity="0.55" filter="url(#blur1)"/><circle cx="741.8" cy="589" r="7" fill="#fff"/>
<ellipse cx="651.2" cy="623" rx="4.8" ry="4.2" fill="#a3a386"/>
<path d="M728.6,620 L730.2,620 L730.6,630 L728.4,630 Z" fill="#8d9474"/><ellipse cx="729.4" cy="618" rx="7.8" ry="6.4" fill="#8d9474"/>
<path d="M755.4,616 L758,616 L758.6,632 L754.6,632 Z" fill="#4b6a2b"/><path d="M744.6,611 Q743,603 750,601.6 Q756,597.6 762,601.4 Q769.6,602.6 769,610 Q770,617.6 762,618.6 Q756,621 750.6,618.4 Q744,617.6 744.6,611 Z" fill="#4b6a2b"/>
<path d="M641,628.6 Q655,627 668,631 Q690,636 712,630 Q735,626 777,630.6 L777,645 L641,645 Z" fill="#9bd45a"/>
<path d="M641,633 Q660,630 676,636 Q700,641 722,634.6 Q745,630 777,634 L777,645 L641,645 Z" fill="#52b432"/>
<g fill="#f6a9c2" stroke="#6a2a3a" stroke-width="1.5" stroke-linejoin="round">
<path d="M684,599 Q690,586 700.4,578.3 Q704,576 706,578 Q707.6,581 704,586.6 Q700,593 696,598.6 Z"/>
<path d="M695.6,598 Q706,591 719,587.2 Q722.6,587 723.6,589.8 Q723.6,593 719,595.4 Q709,600.6 699,604.6 Z"/>
<path d="M700.6,618 Q706,611.6 712,608.6 Q715,608.6 715.6,611.6 Q715,616 710,620.6 Q706,624 702,627 Z"/>
<path d="M700,638 Q708,636 715,637.6 Q719,639.6 718.6,643 L718,646 L698,646 Z"/>
<path d="M669.6,622.6 Q660,613 652.6,603.6 Q652,599.6 655.4,598.6 Q659,597.6 661.4,600.6 Q668,608 674.6,613.6 Z"/>
<path d="M670,623 Q668,608 679,601 Q688,596.6 696,600 Q702,604 701,614 Q702.6,628 699.6,646 L669.6,646 Q667,632 670,623 Z"/>
</g>
<path d="M677.8,604.6 Q675.6,614 680,618.6 Q684,621 687.4,618.6 Q690.6,612 688,605 Q683,602.6 677.8,604.6 Z" fill="#8d7d7d" stroke="#6a2a3a" stroke-width="1.3"/>
<path d="M680,611 Q683,616 687,614" stroke="#6a2a3a" stroke-width="0.7" fill="none"/>
<path d="M686.6,602.4 Q688.6,600.4 691,602 M692,605.6 Q694,604 696,605.8" stroke="#6a2a3a" stroke-width="1" fill="none"/>
<ellipse cx="683.8" cy="635.6" rx="8.2" ry="10.6" fill="#fff"/>
</g>
<rect x="641" y="576.5" width="135" height="67" fill="none" stroke="#2a2a2a" stroke-width="1.5"/>
</g>
</g>
</svg></body></html>
